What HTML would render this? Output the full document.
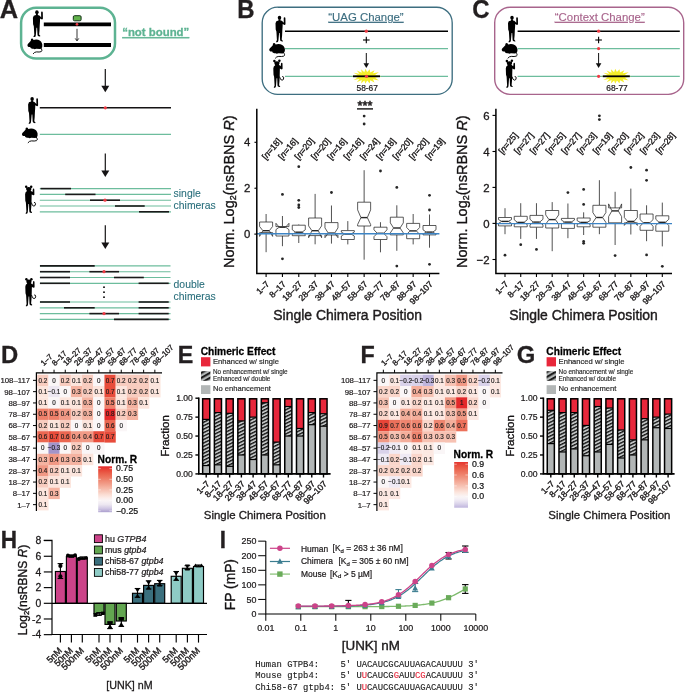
<!DOCTYPE html>
<html lang="en">
<head>
<meta charset="utf-8">
<title>Figure</title>
<style>
html,body{margin:0;padding:0;background:#fff;}
body{width:685px;height:692px;overflow:hidden;}
svg{display:block;font-family:"Liberation Sans",Arial,Helvetica,sans-serif;fill:#231f20;}
svg text{white-space:pre;}
</style>
</head>
<body>
<svg width="685" height="692" viewBox="0 0 685 692">
<rect width="685" height="692" fill="#fff"/>

<defs>
<g id="human" fill="#000">
<ellipse cx="4.3" cy="2" rx="1.75" ry="2"/>
<path d="M3.4 3.6 L5.2 3.6 L5.3 4.7 Q6.9 4.9 7.4 5.8 L8.6 7.2 L8.5 2.6 Q8.5 1.4 9.3 1.4 Q10.2 1.4 10.2 2.6 L10.3 8.3 Q10.2 9.3 9.3 9.3 L7.5 8.4 L7.4 11 L7.1 15.5 L6.9 20 L6.5 24.3 L7.7 25.6 Q7.9 26.3 7.1 26.3 L5.3 25.7 L4.9 24.5 L4.5 17.5 L3.9 17.5 L3.2 25.2 Q3 26.9 2 26.9 L0.9 26.9 Q0.6 26.3 1.3 25.6 L1.7 24.6 L1.2 16 L0.5 14 L0.3 7.5 Q0.5 5 3.3 4.7 Z"/>
</g>
<g id="mouse" fill="#000">
<path d="M0.2 6.6 Q0.6 5.4 2.2 4.2 L3.8 2.4 Q3.6 0.4 5 0.3 Q6.2 0.3 6.6 1.6 Q9 0.8 11.5 1.4 Q15.3 2.6 15.9 6.2 Q16.3 8.6 14.9 10.3 L13.5 10.6 L9.5 10.5 L7.8 11 L6.6 10.4 L5.2 10.4 L3.6 9.7 L3.2 8.8 L1.4 8.6 Q0.2 8 0.2 6.6 Z"/>
<path d="M14.6 9.8 Q16.6 12.4 14.8 13.3 Q12.8 14 9.8 13.6 Q7.6 13.6 6.4 15.3" fill="none" stroke="#000" stroke-width="0.95" stroke-linecap="round"/>
</g>
<g id="chim" fill="#000">
<circle cx="1.4" cy="1.3" r="1.25"/>
<circle cx="6.4" cy="1.2" r="1.25"/>
<path d="M1.3 2.2 Q3.9 0.9 6.5 2.2 Q6.8 4 5.9 5.2 L7.7 6.6 L8 4.2 Q8 3.1 8.7 3.1 Q9.5 3.1 9.5 4.2 L9.6 9 Q9.5 9.9 8.7 9.8 L6.9 8.9 L6.8 12 L6.7 16.5 L6.5 21 L6.1 25.6 L7.2 26.8 Q7.4 27.5 6.6 27.5 L4.9 26.9 L4.5 25.8 L4.2 18.6 L3.6 18.6 L3 26.5 Q2.8 28.2 1.9 28.2 L0.9 28.2 Q0.6 27.6 1.2 26.9 L1.6 25.9 L1.1 17.2 L0.5 15.2 L0.3 8.8 Q0.4 6.6 2.2 5.6 Q1.1 4.3 1.3 2.2 Z"/>
<path d="M6.6 17.4 Q7.2 20.6 9.1 20.6 Q10.8 20.4 10.7 18.2 Q10.6 16.8 9.6 16.9" fill="none" stroke="#000" stroke-width="0.95" stroke-linecap="round"/>
</g>
<g id="burst">
<polygon fill="#f4ee2a" points="-13.5,0 -8,-1.2 -12,-3.6 -6.5,-2.6 -9,-5.8 -4.4,-3.6 -5,-7 -2,-4 -1,-7.4 0.6,-4.2 3,-7 3.4,-3.8 7.4,-6 6,-2.9 11.5,-4 8,-1.4 13.5,0 8,1.4 11.5,4 6,2.9 7.4,6 3.4,3.8 3,7 0.6,4.2 -1,7.4 -2,4 -5,7 -4.4,3.6 -9,5.8 -6.5,2.6 -12,3.6 -8,1.2"/>
</g>
<pattern id="hatch" width="3.1" height="3.1" patternUnits="userSpaceOnUse" patternTransform="rotate(-26)">
<rect width="3.1" height="3.1" fill="#c2c5c5"/>
<rect width="3.1" height="1.35" fill="#161616"/>
</pattern>
<pattern id="hatchL" width="4.3" height="4.3" patternUnits="userSpaceOnUse" patternTransform="rotate(-30) translate(0 1.2)">
<rect width="4.3" height="4.3" fill="#b4b8b8"/>
<rect width="4.3" height="2.1" fill="#1c1c1c"/>
</pattern>
</defs>

<text font-size="25.2" font-weight="bold" fill="#231f20" stroke="#231f20" stroke-width="0.3" transform="translate(-0.30 17.90) scale(1.009 1)">A</text>
<rect x="21.1" y="7.8" width="93.9" height="50.7" rx="15" fill="none" stroke="#5db392" stroke-width="2.5"/>
<use href="#human" transform="translate(32.60 10.20) scale(1.000 1.000)"/>
<use href="#mouse" transform="translate(27.20 38.30) scale(0.950 1.000)"/>
<line x1="43.80" y1="24.30" x2="111.00" y2="24.30" stroke="#000" stroke-width="3.8" />
<line x1="43.80" y1="45.00" x2="111.00" y2="45.00" stroke="#000" stroke-width="3.8" />
<rect x="73.3" y="15.7" width="7.8" height="5.1" rx="1.2" fill="#62b24c" stroke="#16321a" stroke-width="1.0"/>
<circle cx="77.00" cy="24.30" r="1.35" fill="#ee3a43"/>
<line x1="77.00" y1="28.80" x2="77.00" y2="40.80" stroke="#111" stroke-width="0.85" />
<polyline points="75.2,38.4 77,40.8 78.8,38.4" fill="none" stroke="#111" stroke-width="0.85"/>
<text x="122.20" y="36.10" font-size="11.4" font-weight="bold" fill="#5db392" stroke="#5db392" stroke-width="0.30" text-decoration="underline">“not bound”</text>
<line x1="105.30" y1="69.00" x2="105.30" y2="86.80" stroke="#151314" stroke-width="1.2" /><polygon points="101.30,85.80 109.30,85.80 105.30,92.30" fill="#151314"/>
<line x1="105.30" y1="153.40" x2="105.30" y2="171.50" stroke="#151314" stroke-width="1.2" /><polygon points="101.30,170.50 109.30,170.50 105.30,177.00" fill="#151314"/>
<line x1="105.30" y1="225.20" x2="105.30" y2="243.50" stroke="#151314" stroke-width="1.2" /><polygon points="101.30,242.50 109.30,242.50 105.30,249.00" fill="#151314"/>
<use href="#human" transform="translate(27.80 96.90) scale(1.000 1.000)"/>
<line x1="39.80" y1="107.80" x2="171.00" y2="107.80" stroke="#151314" stroke-width="1.5" />
<circle cx="105.30" cy="107.80" r="1.6" fill="#ee3a43"/>
<use href="#mouse" transform="translate(21.70 127.30) scale(1.000 1.000)"/>
<line x1="39.80" y1="134.30" x2="171.00" y2="134.30" stroke="#6dbd9d" stroke-width="1.15" />
<use href="#chim" transform="translate(24.80 185.50) scale(1.000 1.000)"/>
<line x1="39.80" y1="188.60" x2="171.00" y2="188.60" stroke="#6dbd9d" stroke-width="1.15" />
<line x1="40.60" y1="188.60" x2="71.00" y2="188.60" stroke="#1a1a1a" stroke-width="1.6" />
<line x1="39.80" y1="194.40" x2="171.00" y2="194.40" stroke="#6dbd9d" stroke-width="1.15" />
<line x1="65.20" y1="194.40" x2="95.50" y2="194.40" stroke="#1a1a1a" stroke-width="1.6" />
<line x1="39.80" y1="200.20" x2="171.00" y2="200.20" stroke="#6dbd9d" stroke-width="1.15" />
<line x1="90.00" y1="200.20" x2="120.00" y2="200.20" stroke="#1a1a1a" stroke-width="1.6" />
<line x1="39.80" y1="206.00" x2="171.00" y2="206.00" stroke="#6dbd9d" stroke-width="1.15" />
<line x1="115.00" y1="206.00" x2="144.70" y2="206.00" stroke="#1a1a1a" stroke-width="1.6" />
<line x1="39.80" y1="211.80" x2="171.00" y2="211.80" stroke="#6dbd9d" stroke-width="1.15" />
<line x1="139.00" y1="211.80" x2="169.00" y2="211.80" stroke="#1a1a1a" stroke-width="1.6" />
<circle cx="105.00" cy="200.20" r="1.6" fill="#ee3a43"/>
<text x="173.60" y="196.70" font-size="10.4" fill="#2a6f7c" stroke="#2a6f7c" stroke-width="0.10">single</text>
<text x="173.60" y="208.70" font-size="10.4" fill="#2a6f7c" stroke="#2a6f7c" stroke-width="0.10">chimeras</text>
<use href="#chim" transform="translate(25.00 278.00) scale(1.000 1.000)"/>
<line x1="39.80" y1="265.90" x2="170.50" y2="265.90" stroke="#6dbd9d" stroke-width="1.15" />
<line x1="40.00" y1="265.90" x2="94.70" y2="265.90" stroke="#1a1a1a" stroke-width="1.6" />
<line x1="39.80" y1="271.70" x2="170.50" y2="271.70" stroke="#6dbd9d" stroke-width="1.15" />
<line x1="40.00" y1="271.70" x2="70.00" y2="271.70" stroke="#1a1a1a" stroke-width="1.6" />
<line x1="89.40" y1="271.70" x2="119.00" y2="271.70" stroke="#1a1a1a" stroke-width="1.6" />
<line x1="39.80" y1="277.50" x2="170.50" y2="277.50" stroke="#6dbd9d" stroke-width="1.15" />
<line x1="40.00" y1="277.50" x2="70.00" y2="277.50" stroke="#1a1a1a" stroke-width="1.6" />
<line x1="114.00" y1="277.50" x2="143.80" y2="277.50" stroke="#1a1a1a" stroke-width="1.6" />
<line x1="39.80" y1="283.30" x2="170.50" y2="283.30" stroke="#6dbd9d" stroke-width="1.15" />
<line x1="40.00" y1="283.30" x2="70.00" y2="283.30" stroke="#1a1a1a" stroke-width="1.6" />
<line x1="138.60" y1="283.30" x2="168.70" y2="283.30" stroke="#1a1a1a" stroke-width="1.6" />
<line x1="39.80" y1="302.00" x2="170.50" y2="302.00" stroke="#6dbd9d" stroke-width="1.15" />
<line x1="40.00" y1="302.00" x2="70.00" y2="302.00" stroke="#1a1a1a" stroke-width="1.6" />
<line x1="138.60" y1="302.00" x2="168.70" y2="302.00" stroke="#1a1a1a" stroke-width="1.6" />
<line x1="39.80" y1="307.80" x2="170.50" y2="307.80" stroke="#6dbd9d" stroke-width="1.15" />
<line x1="64.00" y1="307.80" x2="94.70" y2="307.80" stroke="#1a1a1a" stroke-width="1.6" />
<line x1="138.60" y1="307.80" x2="168.70" y2="307.80" stroke="#1a1a1a" stroke-width="1.6" />
<line x1="39.80" y1="313.60" x2="170.50" y2="313.60" stroke="#6dbd9d" stroke-width="1.15" />
<line x1="89.40" y1="313.60" x2="119.00" y2="313.60" stroke="#1a1a1a" stroke-width="1.6" />
<line x1="138.60" y1="313.60" x2="168.70" y2="313.60" stroke="#1a1a1a" stroke-width="1.6" />
<line x1="39.80" y1="319.40" x2="170.50" y2="319.40" stroke="#6dbd9d" stroke-width="1.15" />
<line x1="114.00" y1="319.40" x2="168.70" y2="319.40" stroke="#1a1a1a" stroke-width="1.6" />
<circle cx="104.00" cy="271.70" r="1.6" fill="#ee3a43"/>
<circle cx="104.00" cy="313.60" r="1.6" fill="#ee3a43"/>
<rect x="103.2" y="286.4" width="1.6" height="1.6" fill="#000"/>
<rect x="103.2" y="291.4" width="1.6" height="1.6" fill="#000"/>
<rect x="103.2" y="296.4" width="1.6" height="1.6" fill="#000"/>
<text x="173.60" y="287.80" font-size="10.4" fill="#2a6f7c" stroke="#2a6f7c" stroke-width="0.10">double</text>
<text x="173.60" y="300.20" font-size="10.4" fill="#2a6f7c" stroke="#2a6f7c" stroke-width="0.10">chimeras</text>
<text font-size="25.2" font-weight="bold" fill="#231f20" stroke="#231f20" stroke-width="0.3" transform="translate(237.20 17.70) scale(0.951 1)">B</text>
<rect x="262.2" y="7.2" width="190" height="87.2" rx="15.5" fill="none" stroke="#3d6e80" stroke-width="1.35"/>
<text x="366.00" y="20.80" font-size="11.4" text-anchor="middle" fill="#3d6e80" stroke="#3d6e80" stroke-width="0.15" text-decoration="underline">“UAG Change”</text>
<use href="#human" transform="translate(275.20 15.80) scale(1.000 0.980)"/>
<use href="#mouse" transform="translate(269.00 42.80) scale(1.000 1.000)"/>
<use href="#chim" transform="translate(273.00 59.60) scale(1.000 1.000)"/>
<line x1="285.00" y1="31.20" x2="448.00" y2="31.20" stroke="#000" stroke-width="1.5" />
<line x1="285.00" y1="48.60" x2="448.00" y2="48.60" stroke="#6dbd9d" stroke-width="1.2" />
<line x1="285.00" y1="76.30" x2="448.00" y2="76.30" stroke="#6dbd9d" stroke-width="1.2" />
<line x1="363.00" y1="40.00" x2="369.60" y2="40.00" stroke="#000" stroke-width="1.1" />
<line x1="366.30" y1="36.70" x2="366.30" y2="43.30" stroke="#000" stroke-width="1.1" />
<line x1="366.30" y1="53.00" x2="366.30" y2="64.20" stroke="#111" stroke-width="1.0" /><polygon points="363.50,63.20 369.10,63.20 366.30,68.00" fill="#111"/>
<use href="#burst" transform="translate(366.5 76.3) scale(1.08 1.02)"/>
<line x1="353.00" y1="76.30" x2="380.00" y2="76.30" stroke="#000" stroke-width="1.8" />
<circle cx="366.30" cy="31.20" r="1.6" fill="#ee3a43"/>
<circle cx="366.50" cy="76.30" r="1.6" fill="#ee3a43"/>
<text x="367.20" y="91.40" font-size="8.4" text-anchor="middle" stroke="#151314" stroke-width="0.21">58-67</text>
<text x="365.00" y="110.20" font-size="12.8" text-anchor="middle" stroke="#151314" stroke-width="0.50">***</text>
<line x1="357.00" y1="108.90" x2="373.00" y2="108.90" stroke="#000" stroke-width="1.3" />
<line x1="266.10" y1="214.00" x2="266.10" y2="222.00" stroke="#262626" stroke-width="0.8" /><line x1="266.10" y1="232.60" x2="266.10" y2="252.20" stroke="#262626" stroke-width="0.8" /><polygon points="259.60,222.00 272.60,222.00 272.60,226.50 269.30,230.70 272.60,236.40 272.60,232.60 259.60,232.60 259.60,236.40 262.90,230.70 259.60,226.50" fill="#fff" stroke="#262626" stroke-width="0.75" stroke-linejoin="miter"/><line x1="262.90" y1="230.70" x2="269.30" y2="230.70" stroke="#262626" stroke-width="1.4" />
<line x1="282.44" y1="216.00" x2="282.44" y2="226.60" stroke="#262626" stroke-width="0.8" /><line x1="282.44" y1="236.00" x2="282.44" y2="246.20" stroke="#262626" stroke-width="0.8" /><polygon points="275.94,226.60 288.94,226.60 288.94,223.30 285.64,227.20 288.94,229.60 288.94,236.00 275.94,236.00 275.94,229.60 279.24,227.20 275.94,223.30" fill="#fff" stroke="#262626" stroke-width="0.75" stroke-linejoin="miter"/><line x1="279.24" y1="227.20" x2="285.64" y2="227.20" stroke="#262626" stroke-width="1.4" />
<line x1="298.78" y1="224.50" x2="298.78" y2="225.20" stroke="#262626" stroke-width="0.8" /><line x1="298.78" y1="235.70" x2="298.78" y2="243.00" stroke="#262626" stroke-width="0.8" /><polygon points="292.28,225.20 305.28,225.20 305.28,229.80 301.98,232.20 305.28,234.40 305.28,235.70 292.28,235.70 292.28,234.40 295.58,232.20 292.28,229.80" fill="#fff" stroke="#262626" stroke-width="0.75" stroke-linejoin="miter"/><line x1="295.58" y1="232.20" x2="301.98" y2="232.20" stroke="#262626" stroke-width="1.4" />
<line x1="315.12" y1="193.90" x2="315.12" y2="218.00" stroke="#262626" stroke-width="0.8" /><line x1="315.12" y1="235.60" x2="315.12" y2="244.30" stroke="#262626" stroke-width="0.8" /><polygon points="308.62,218.00 321.62,218.00 321.62,225.90 318.32,230.70 321.62,237.70 321.62,235.60 308.62,235.60 308.62,237.70 311.92,230.70 308.62,225.90" fill="#fff" stroke="#262626" stroke-width="0.75" stroke-linejoin="miter"/><line x1="311.92" y1="230.70" x2="318.32" y2="230.70" stroke="#262626" stroke-width="1.4" />
<line x1="331.46" y1="205.50" x2="331.46" y2="222.60" stroke="#262626" stroke-width="0.8" /><line x1="331.46" y1="235.00" x2="331.46" y2="243.60" stroke="#262626" stroke-width="0.8" /><polygon points="324.96,222.60 337.96,222.60 337.96,227.90 334.66,233.10 337.96,237.70 337.96,235.00 324.96,235.00 324.96,237.70 328.26,233.10 324.96,227.90" fill="#fff" stroke="#262626" stroke-width="0.75" stroke-linejoin="miter"/><line x1="328.26" y1="233.10" x2="334.66" y2="233.10" stroke="#262626" stroke-width="1.4" />
<line x1="347.80" y1="221.10" x2="347.80" y2="230.60" stroke="#262626" stroke-width="0.8" /><line x1="347.80" y1="239.50" x2="347.80" y2="244.40" stroke="#262626" stroke-width="0.8" /><polygon points="341.30,230.60 354.30,230.60 354.30,232.10 351.00,234.00 354.30,236.00 354.30,239.50 341.30,239.50 341.30,236.00 344.60,234.00 341.30,232.10" fill="#fff" stroke="#262626" stroke-width="0.75" stroke-linejoin="miter"/><line x1="344.60" y1="234.00" x2="351.00" y2="234.00" stroke="#262626" stroke-width="1.4" />
<line x1="364.14" y1="170.20" x2="364.14" y2="202.20" stroke="#262626" stroke-width="0.8" /><line x1="364.14" y1="226.00" x2="364.14" y2="259.70" stroke="#262626" stroke-width="0.8" /><polygon points="357.64,202.20 370.64,202.20 370.64,209.90 367.34,217.60 370.64,224.50 370.64,226.00 357.64,226.00 357.64,224.50 360.94,217.60 357.64,209.90" fill="#fff" stroke="#262626" stroke-width="0.75" stroke-linejoin="miter"/><line x1="360.94" y1="217.60" x2="367.34" y2="217.60" stroke="#262626" stroke-width="1.4" />
<line x1="380.48" y1="222.20" x2="380.48" y2="227.20" stroke="#262626" stroke-width="0.8" /><line x1="380.48" y1="239.50" x2="380.48" y2="252.30" stroke="#262626" stroke-width="0.8" /><polygon points="373.98,227.20 386.98,227.20 386.98,229.80 383.68,233.30 386.98,236.70 386.98,239.50 373.98,239.50 373.98,236.70 377.28,233.30 373.98,229.80" fill="#fff" stroke="#262626" stroke-width="0.75" stroke-linejoin="miter"/><line x1="377.28" y1="233.30" x2="383.68" y2="233.30" stroke="#262626" stroke-width="1.4" />
<line x1="396.82" y1="205.30" x2="396.82" y2="217.20" stroke="#262626" stroke-width="0.8" /><line x1="396.82" y1="234.90" x2="396.82" y2="250.80" stroke="#262626" stroke-width="0.8" /><polygon points="390.32,217.20 403.32,217.20 403.32,222.90 400.02,228.00 403.32,232.90 403.32,234.90 390.32,234.90 390.32,232.90 393.62,228.00 390.32,222.90" fill="#fff" stroke="#262626" stroke-width="0.75" stroke-linejoin="miter"/><line x1="393.62" y1="228.00" x2="400.02" y2="228.00" stroke="#262626" stroke-width="1.4" />
<line x1="413.16" y1="214.00" x2="413.16" y2="223.40" stroke="#262626" stroke-width="0.8" /><line x1="413.16" y1="238.70" x2="413.16" y2="244.40" stroke="#262626" stroke-width="0.8" /><polygon points="406.66,223.40 419.66,223.40 419.66,227.50 416.36,230.90 419.66,234.40 419.66,238.70 406.66,238.70 406.66,234.40 409.96,230.90 406.66,227.50" fill="#fff" stroke="#262626" stroke-width="0.75" stroke-linejoin="miter"/><line x1="409.96" y1="230.90" x2="416.36" y2="230.90" stroke="#262626" stroke-width="1.4" />
<line x1="429.50" y1="214.50" x2="429.50" y2="225.50" stroke="#262626" stroke-width="0.8" /><line x1="429.50" y1="234.90" x2="429.50" y2="247.70" stroke="#262626" stroke-width="0.8" /><polygon points="423.00,225.50 436.00,225.50 436.00,229.80 432.70,232.10 436.00,234.00 436.00,234.90 423.00,234.90 423.00,234.00 426.30,232.10 423.00,229.80" fill="#fff" stroke="#262626" stroke-width="0.75" stroke-linejoin="miter"/><line x1="426.30" y1="232.10" x2="432.70" y2="232.10" stroke="#262626" stroke-width="1.4" />
<circle cx="282.44" cy="194.40" r="1.4" fill="#262626"/>
<circle cx="282.44" cy="258.80" r="1.4" fill="#262626"/>
<circle cx="298.78" cy="166.70" r="1.4" fill="#262626"/>
<circle cx="298.78" cy="200.30" r="1.4" fill="#262626"/>
<circle cx="298.78" cy="204.90" r="1.4" fill="#262626"/>
<circle cx="298.78" cy="207.50" r="1.4" fill="#262626"/>
<circle cx="331.46" cy="192.50" r="1.4" fill="#262626"/>
<circle cx="364.14" cy="116.10" r="1.4" fill="#262626"/>
<circle cx="364.14" cy="124.00" r="1.4" fill="#262626"/>
<circle cx="380.48" cy="171.00" r="1.4" fill="#262626"/>
<circle cx="396.82" cy="187.40" r="1.4" fill="#262626"/>
<circle cx="396.82" cy="266.10" r="1.4" fill="#262626"/>
<circle cx="429.50" cy="195.30" r="1.4" fill="#262626"/>
<circle cx="429.50" cy="210.00" r="1.4" fill="#262626"/>
<circle cx="429.50" cy="264.30" r="1.4" fill="#262626"/>
<line x1="256.80" y1="233.80" x2="439.40" y2="233.80" stroke="#3d85c6" stroke-width="1.5" />
<polyline points="256.8,108.8 256.8,273.6 439.4,273.6" fill="none" stroke="#000" stroke-width="1.5"/>
<line x1="254.40" y1="142.30" x2="256.80" y2="142.30" stroke="#000" stroke-width="1.1" />
<text x="250.40" y="146.40" font-size="11.4" text-anchor="end" stroke="#151314" stroke-width="0.30">4</text>
<line x1="254.40" y1="188.20" x2="256.80" y2="188.20" stroke="#000" stroke-width="1.1" />
<text x="250.40" y="192.30" font-size="11.4" text-anchor="end" stroke="#151314" stroke-width="0.30">2</text>
<line x1="254.40" y1="234.10" x2="256.80" y2="234.10" stroke="#000" stroke-width="1.1" />
<text x="250.40" y="238.20" font-size="11.4" text-anchor="end" stroke="#151314" stroke-width="0.30">0</text>
<line x1="266.10" y1="273.60" x2="266.10" y2="277.00" stroke="#000" stroke-width="1.1" />
<text x="270.00" y="284.70" font-size="8.6" text-anchor="end" stroke="#151314" stroke-width="0.34" transform="rotate(-45 270.00 284.70)">1–7</text>
<line x1="282.44" y1="273.60" x2="282.44" y2="277.00" stroke="#000" stroke-width="1.1" />
<text x="286.34" y="284.70" font-size="8.6" text-anchor="end" stroke="#151314" stroke-width="0.34" transform="rotate(-45 286.34 284.70)">8–17</text>
<line x1="298.78" y1="273.60" x2="298.78" y2="277.00" stroke="#000" stroke-width="1.1" />
<text x="302.68" y="284.70" font-size="8.6" text-anchor="end" stroke="#151314" stroke-width="0.34" transform="rotate(-45 302.68 284.70)">18–27</text>
<line x1="315.12" y1="273.60" x2="315.12" y2="277.00" stroke="#000" stroke-width="1.1" />
<text x="319.02" y="284.70" font-size="8.6" text-anchor="end" stroke="#151314" stroke-width="0.34" transform="rotate(-45 319.02 284.70)">28–37</text>
<line x1="331.46" y1="273.60" x2="331.46" y2="277.00" stroke="#000" stroke-width="1.1" />
<text x="335.36" y="284.70" font-size="8.6" text-anchor="end" stroke="#151314" stroke-width="0.34" transform="rotate(-45 335.36 284.70)">38–47</text>
<line x1="347.80" y1="273.60" x2="347.80" y2="277.00" stroke="#000" stroke-width="1.1" />
<text x="351.70" y="284.70" font-size="8.6" text-anchor="end" stroke="#151314" stroke-width="0.34" transform="rotate(-45 351.70 284.70)">48–57</text>
<line x1="364.14" y1="273.60" x2="364.14" y2="277.00" stroke="#000" stroke-width="1.1" />
<text x="368.04" y="284.70" font-size="8.6" text-anchor="end" stroke="#151314" stroke-width="0.34" transform="rotate(-45 368.04 284.70)">58–67</text>
<line x1="380.48" y1="273.60" x2="380.48" y2="277.00" stroke="#000" stroke-width="1.1" />
<text x="384.38" y="284.70" font-size="8.6" text-anchor="end" stroke="#151314" stroke-width="0.34" transform="rotate(-45 384.38 284.70)">68–77</text>
<line x1="396.82" y1="273.60" x2="396.82" y2="277.00" stroke="#000" stroke-width="1.1" />
<text x="400.72" y="284.70" font-size="8.6" text-anchor="end" stroke="#151314" stroke-width="0.34" transform="rotate(-45 400.72 284.70)">78–87</text>
<line x1="413.16" y1="273.60" x2="413.16" y2="277.00" stroke="#000" stroke-width="1.1" />
<text x="417.06" y="284.70" font-size="8.6" text-anchor="end" stroke="#151314" stroke-width="0.34" transform="rotate(-45 417.06 284.70)">88–97</text>
<line x1="429.50" y1="273.60" x2="429.50" y2="277.00" stroke="#000" stroke-width="1.1" />
<text x="433.40" y="284.70" font-size="8.6" text-anchor="end" stroke="#151314" stroke-width="0.34" transform="rotate(-45 433.40 284.70)">98–107</text>
<text x="265.90" y="160.20" font-size="8.8" stroke="#151314" stroke-width="0.34" transform="rotate(-50 265.90 160.20)">[<tspan font-style="italic">n</tspan>=18]</text>
<text x="282.24" y="160.20" font-size="8.8" stroke="#151314" stroke-width="0.34" transform="rotate(-50 282.24 160.20)">[<tspan font-style="italic">n</tspan>=16]</text>
<text x="298.58" y="160.20" font-size="8.8" stroke="#151314" stroke-width="0.34" transform="rotate(-50 298.58 160.20)">[<tspan font-style="italic">n</tspan>=20]</text>
<text x="314.92" y="160.20" font-size="8.8" stroke="#151314" stroke-width="0.34" transform="rotate(-50 314.92 160.20)">[<tspan font-style="italic">n</tspan>=20]</text>
<text x="331.26" y="160.20" font-size="8.8" stroke="#151314" stroke-width="0.34" transform="rotate(-50 331.26 160.20)">[<tspan font-style="italic">n</tspan>=16]</text>
<text x="347.60" y="160.20" font-size="8.8" stroke="#151314" stroke-width="0.34" transform="rotate(-50 347.60 160.20)">[<tspan font-style="italic">n</tspan>=16]</text>
<text x="363.94" y="160.20" font-size="8.8" stroke="#151314" stroke-width="0.34" transform="rotate(-50 363.94 160.20)">[<tspan font-style="italic">n</tspan>=24]</text>
<text x="380.28" y="160.20" font-size="8.8" stroke="#151314" stroke-width="0.34" transform="rotate(-50 380.28 160.20)">[<tspan font-style="italic">n</tspan>=18]</text>
<text x="396.62" y="160.20" font-size="8.8" stroke="#151314" stroke-width="0.34" transform="rotate(-50 396.62 160.20)">[<tspan font-style="italic">n</tspan>=20]</text>
<text x="412.96" y="160.20" font-size="8.8" stroke="#151314" stroke-width="0.34" transform="rotate(-50 412.96 160.20)">[<tspan font-style="italic">n</tspan>=20]</text>
<text x="429.30" y="160.20" font-size="8.8" stroke="#151314" stroke-width="0.34" transform="rotate(-50 429.30 160.20)">[<tspan font-style="italic">n</tspan>=19]</text>
<text x="347.65" y="320.00" font-size="13.95" text-anchor="middle" stroke="#151314" stroke-width="0.38">Single Chimera Position</text>
<text fill="#151314" stroke="#151314" stroke-width="0.34" font-size="14.5" text-anchor="middle" transform="translate(233.7 191.7) rotate(-90)">Norm. Log<tspan font-size="9" dy="2.6">2</tspan><tspan dy="-2.6">(nsRBNS </tspan><tspan font-style="italic">R</tspan>)</text>
<text font-size="25.2" font-weight="bold" fill="#231f20" stroke="#231f20" stroke-width="0.3" transform="translate(472.30 17.70) scale(0.951 1)">C</text>
<rect x="494.7" y="7.2" width="189.0" height="87.2" rx="15.5" fill="none" stroke="#a8648c" stroke-width="1.4"/>
<text x="599.80" y="20.80" font-size="11.4" text-anchor="middle" fill="#a8648c" stroke="#a8648c" stroke-width="0.15" text-decoration="underline">“Context Change”</text>
<use href="#human" transform="translate(507.70 15.80) scale(1.000 0.980)"/>
<use href="#mouse" transform="translate(501.50 42.80) scale(1.000 1.000)"/>
<use href="#chim" transform="translate(505.50 59.60) scale(1.000 1.000)"/>
<line x1="517.60" y1="31.20" x2="679.80" y2="31.20" stroke="#000" stroke-width="1.5" />
<line x1="517.60" y1="48.60" x2="679.80" y2="48.60" stroke="#6dbd9d" stroke-width="1.2" />
<line x1="517.60" y1="76.30" x2="679.80" y2="76.30" stroke="#6dbd9d" stroke-width="1.2" />
<line x1="595.30" y1="40.00" x2="601.90" y2="40.00" stroke="#000" stroke-width="1.1" />
<line x1="598.60" y1="36.70" x2="598.60" y2="43.30" stroke="#000" stroke-width="1.1" />
<line x1="598.60" y1="53.00" x2="598.60" y2="64.20" stroke="#111" stroke-width="1.0" /><polygon points="595.80,63.20 601.40,63.20 598.60,68.00" fill="#111"/>
<use href="#burst" transform="translate(616.3 76.3) scale(1.08 1.02)"/>
<line x1="602.80" y1="76.30" x2="629.80" y2="76.30" stroke="#000" stroke-width="1.8" />
<circle cx="598.60" cy="31.20" r="1.6" fill="#ee3a43"/>
<circle cx="598.60" cy="48.60" r="1.6" fill="#ee3a43"/>
<circle cx="598.60" cy="76.30" r="1.6" fill="#ee3a43"/>
<text x="617.00" y="91.40" font-size="8.4" text-anchor="middle" stroke="#151314" stroke-width="0.21">68-77</text>
<line x1="505.00" y1="208.20" x2="505.00" y2="217.50" stroke="#262626" stroke-width="0.8" /><line x1="505.00" y1="225.90" x2="505.00" y2="234.20" stroke="#262626" stroke-width="0.8" /><polygon points="498.50,217.50 511.50,217.50 511.50,219.60 508.20,221.40 511.50,223.30 511.50,225.90 498.50,225.90 498.50,223.30 501.80,221.40 498.50,219.60" fill="#fff" stroke="#262626" stroke-width="0.75" stroke-linejoin="miter"/><line x1="501.80" y1="221.40" x2="508.20" y2="221.40" stroke="#262626" stroke-width="1.4" />
<line x1="520.73" y1="203.20" x2="520.73" y2="216.30" stroke="#262626" stroke-width="0.8" /><line x1="520.73" y1="226.80" x2="520.73" y2="238.90" stroke="#262626" stroke-width="0.8" /><polygon points="514.23,216.30 527.23,216.30 527.23,219.80 523.93,222.40 527.23,224.50 527.23,226.80 514.23,226.80 514.23,224.50 517.53,222.40 514.23,219.80" fill="#fff" stroke="#262626" stroke-width="0.75" stroke-linejoin="miter"/><line x1="517.53" y1="222.40" x2="523.93" y2="222.40" stroke="#262626" stroke-width="1.4" />
<line x1="536.46" y1="203.20" x2="536.46" y2="215.40" stroke="#262626" stroke-width="0.8" /><line x1="536.46" y1="227.20" x2="536.46" y2="238.90" stroke="#262626" stroke-width="0.8" /><polygon points="529.96,215.40 542.96,215.40 542.96,219.30 539.66,222.10 542.96,224.90 542.96,227.20 529.96,227.20 529.96,224.90 533.26,222.10 529.96,219.30" fill="#fff" stroke="#262626" stroke-width="0.75" stroke-linejoin="miter"/><line x1="533.26" y1="222.10" x2="539.66" y2="222.10" stroke="#262626" stroke-width="1.4" />
<line x1="552.19" y1="202.10" x2="552.19" y2="210.50" stroke="#262626" stroke-width="0.8" /><line x1="552.19" y1="228.00" x2="552.19" y2="251.20" stroke="#262626" stroke-width="0.8" /><polygon points="545.69,210.50 558.69,210.50 558.69,214.90 555.39,219.60 558.69,224.20 558.69,228.00 545.69,228.00 545.69,224.20 548.99,219.60 545.69,214.90" fill="#fff" stroke="#262626" stroke-width="0.75" stroke-linejoin="miter"/><line x1="548.99" y1="219.60" x2="555.39" y2="219.60" stroke="#262626" stroke-width="1.4" />
<line x1="567.92" y1="203.50" x2="567.92" y2="218.40" stroke="#262626" stroke-width="0.8" /><line x1="567.92" y1="228.40" x2="567.92" y2="238.20" stroke="#262626" stroke-width="0.8" /><polygon points="561.42,218.40 574.42,218.40 574.42,220.10 571.12,222.10 574.42,224.20 574.42,228.40 561.42,228.40 561.42,224.20 564.72,222.10 561.42,220.10" fill="#fff" stroke="#262626" stroke-width="0.75" stroke-linejoin="miter"/><line x1="564.72" y1="222.10" x2="571.12" y2="222.10" stroke="#262626" stroke-width="1.4" />
<line x1="583.65" y1="212.30" x2="583.65" y2="218.00" stroke="#262626" stroke-width="0.8" /><line x1="583.65" y1="226.80" x2="583.65" y2="235.00" stroke="#262626" stroke-width="0.8" /><polygon points="577.15,218.00 590.15,218.00 590.15,220.70 586.85,222.40 590.15,224.50 590.15,226.80 577.15,226.80 577.15,224.50 580.45,222.40 577.15,220.70" fill="#fff" stroke="#262626" stroke-width="0.75" stroke-linejoin="miter"/><line x1="580.45" y1="222.40" x2="586.85" y2="222.40" stroke="#262626" stroke-width="1.4" />
<line x1="599.38" y1="180.20" x2="599.38" y2="205.30" stroke="#262626" stroke-width="0.8" /><line x1="599.38" y1="227.20" x2="599.38" y2="234.20" stroke="#262626" stroke-width="0.8" /><polygon points="592.88,205.30 605.88,205.30 605.88,212.60 602.58,217.50 605.88,222.40 605.88,227.20 592.88,227.20 592.88,222.40 596.18,217.50 592.88,212.60" fill="#fff" stroke="#262626" stroke-width="0.75" stroke-linejoin="miter"/><line x1="596.18" y1="217.50" x2="602.58" y2="217.50" stroke="#262626" stroke-width="1.4" />
<line x1="615.11" y1="191.80" x2="615.11" y2="207.90" stroke="#262626" stroke-width="0.8" /><line x1="615.11" y1="222.80" x2="615.11" y2="245.00" stroke="#262626" stroke-width="0.8" /><polygon points="608.61,207.90 621.61,207.90 621.61,203.90 618.31,210.90 621.61,216.60 621.61,222.80 608.61,222.80 608.61,216.60 611.91,210.90 608.61,203.90" fill="#fff" stroke="#262626" stroke-width="0.75" stroke-linejoin="miter"/><line x1="611.91" y1="210.90" x2="618.31" y2="210.90" stroke="#262626" stroke-width="1.4" />
<line x1="630.84" y1="188.60" x2="630.84" y2="210.50" stroke="#262626" stroke-width="0.8" /><line x1="630.84" y1="222.80" x2="630.84" y2="234.50" stroke="#262626" stroke-width="0.8" /><polygon points="624.34,210.50 637.34,210.50 637.34,217.50 634.04,221.40 637.34,225.40 637.34,222.80 624.34,222.80 624.34,225.40 627.64,221.40 624.34,217.50" fill="#fff" stroke="#262626" stroke-width="0.75" stroke-linejoin="miter"/><line x1="627.64" y1="221.40" x2="634.04" y2="221.40" stroke="#262626" stroke-width="1.4" />
<line x1="646.57" y1="205.30" x2="646.57" y2="214.00" stroke="#262626" stroke-width="0.8" /><line x1="646.57" y1="230.30" x2="646.57" y2="241.20" stroke="#262626" stroke-width="0.8" /><polygon points="640.07,214.00 653.07,214.00 653.07,219.60 649.77,222.80 653.07,226.30 653.07,230.30 640.07,230.30 640.07,226.30 643.37,222.80 640.07,219.60" fill="#fff" stroke="#262626" stroke-width="0.75" stroke-linejoin="miter"/><line x1="643.37" y1="222.80" x2="649.77" y2="222.80" stroke="#262626" stroke-width="1.4" />
<line x1="662.30" y1="202.60" x2="662.30" y2="215.80" stroke="#262626" stroke-width="0.8" /><line x1="662.30" y1="231.20" x2="662.30" y2="246.40" stroke="#262626" stroke-width="0.8" /><polygon points="655.80,215.80 668.80,215.80 668.80,219.30 665.50,222.30 668.80,225.40 668.80,231.20 655.80,231.20 655.80,225.40 659.10,222.30 655.80,219.30" fill="#fff" stroke="#262626" stroke-width="0.75" stroke-linejoin="miter"/><line x1="659.10" y1="222.30" x2="665.50" y2="222.30" stroke="#262626" stroke-width="1.4" />
<circle cx="505.00" cy="255.20" r="1.4" fill="#262626"/>
<circle cx="520.73" cy="244.70" r="1.4" fill="#262626"/>
<circle cx="536.46" cy="249.40" r="1.4" fill="#262626"/>
<circle cx="567.92" cy="192.60" r="1.4" fill="#262626"/>
<circle cx="583.65" cy="189.40" r="1.4" fill="#262626"/>
<circle cx="583.65" cy="204.40" r="1.4" fill="#262626"/>
<circle cx="583.65" cy="241.50" r="1.4" fill="#262626"/>
<circle cx="583.65" cy="243.30" r="1.4" fill="#262626"/>
<circle cx="599.38" cy="115.80" r="1.4" fill="#262626"/>
<circle cx="599.38" cy="119.60" r="1.4" fill="#262626"/>
<circle cx="615.11" cy="255.60" r="1.4" fill="#262626"/>
<circle cx="630.84" cy="167.50" r="1.4" fill="#262626"/>
<circle cx="646.57" cy="170.20" r="1.4" fill="#262626"/>
<circle cx="646.57" cy="180.30" r="1.4" fill="#262626"/>
<circle cx="646.57" cy="254.90" r="1.4" fill="#262626"/>
<circle cx="662.30" cy="266.30" r="1.4" fill="#262626"/>
<line x1="495.90" y1="223.55" x2="672.00" y2="223.55" stroke="#3d85c6" stroke-width="1.15" />
<polyline points="495.9,108.8 495.9,273.6 672,273.6" fill="none" stroke="#000" stroke-width="1.5"/>
<line x1="492.50" y1="115.40" x2="495.90" y2="115.40" stroke="#000" stroke-width="1.1" />
<text x="489.50" y="119.50" font-size="11.4" text-anchor="end" stroke="#151314" stroke-width="0.30">6</text>
<line x1="492.50" y1="151.50" x2="495.90" y2="151.50" stroke="#000" stroke-width="1.1" />
<text x="489.50" y="155.60" font-size="11.4" text-anchor="end" stroke="#151314" stroke-width="0.30">4</text>
<line x1="492.50" y1="187.40" x2="495.90" y2="187.40" stroke="#000" stroke-width="1.1" />
<text x="489.50" y="191.50" font-size="11.4" text-anchor="end" stroke="#151314" stroke-width="0.30">2</text>
<line x1="492.50" y1="223.40" x2="495.90" y2="223.40" stroke="#000" stroke-width="1.1" />
<text x="489.50" y="227.50" font-size="11.4" text-anchor="end" stroke="#151314" stroke-width="0.30">0</text>
<line x1="492.50" y1="259.50" x2="495.90" y2="259.50" stroke="#000" stroke-width="1.1" />
<text x="489.50" y="263.60" font-size="11.4" text-anchor="end" stroke="#151314" stroke-width="0.30">−2</text>
<line x1="505.00" y1="273.60" x2="505.00" y2="277.00" stroke="#000" stroke-width="1.1" />
<text x="508.90" y="284.70" font-size="8.6" text-anchor="end" stroke="#151314" stroke-width="0.34" transform="rotate(-45 508.90 284.70)">1–7</text>
<line x1="520.73" y1="273.60" x2="520.73" y2="277.00" stroke="#000" stroke-width="1.1" />
<text x="524.63" y="284.70" font-size="8.6" text-anchor="end" stroke="#151314" stroke-width="0.34" transform="rotate(-45 524.63 284.70)">8–17</text>
<line x1="536.46" y1="273.60" x2="536.46" y2="277.00" stroke="#000" stroke-width="1.1" />
<text x="540.36" y="284.70" font-size="8.6" text-anchor="end" stroke="#151314" stroke-width="0.34" transform="rotate(-45 540.36 284.70)">18–27</text>
<line x1="552.19" y1="273.60" x2="552.19" y2="277.00" stroke="#000" stroke-width="1.1" />
<text x="556.09" y="284.70" font-size="8.6" text-anchor="end" stroke="#151314" stroke-width="0.34" transform="rotate(-45 556.09 284.70)">28–37</text>
<line x1="567.92" y1="273.60" x2="567.92" y2="277.00" stroke="#000" stroke-width="1.1" />
<text x="571.82" y="284.70" font-size="8.6" text-anchor="end" stroke="#151314" stroke-width="0.34" transform="rotate(-45 571.82 284.70)">38–47</text>
<line x1="583.65" y1="273.60" x2="583.65" y2="277.00" stroke="#000" stroke-width="1.1" />
<text x="587.55" y="284.70" font-size="8.6" text-anchor="end" stroke="#151314" stroke-width="0.34" transform="rotate(-45 587.55 284.70)">48–57</text>
<line x1="599.38" y1="273.60" x2="599.38" y2="277.00" stroke="#000" stroke-width="1.1" />
<text x="603.28" y="284.70" font-size="8.6" text-anchor="end" stroke="#151314" stroke-width="0.34" transform="rotate(-45 603.28 284.70)">58–67</text>
<line x1="615.11" y1="273.60" x2="615.11" y2="277.00" stroke="#000" stroke-width="1.1" />
<text x="619.01" y="284.70" font-size="8.6" text-anchor="end" stroke="#151314" stroke-width="0.34" transform="rotate(-45 619.01 284.70)">68–77</text>
<line x1="630.84" y1="273.60" x2="630.84" y2="277.00" stroke="#000" stroke-width="1.1" />
<text x="634.74" y="284.70" font-size="8.6" text-anchor="end" stroke="#151314" stroke-width="0.34" transform="rotate(-45 634.74 284.70)">78–87</text>
<line x1="646.57" y1="273.60" x2="646.57" y2="277.00" stroke="#000" stroke-width="1.1" />
<text x="650.47" y="284.70" font-size="8.6" text-anchor="end" stroke="#151314" stroke-width="0.34" transform="rotate(-45 650.47 284.70)">88–97</text>
<line x1="662.30" y1="273.60" x2="662.30" y2="277.00" stroke="#000" stroke-width="1.1" />
<text x="666.20" y="284.70" font-size="8.6" text-anchor="end" stroke="#151314" stroke-width="0.34" transform="rotate(-45 666.20 284.70)">98–107</text>
<text x="502.40" y="154.60" font-size="8.8" stroke="#151314" stroke-width="0.34" transform="rotate(-50 502.40 154.60)">[<tspan font-style="italic">n</tspan>=25]</text>
<text x="518.13" y="154.60" font-size="8.8" stroke="#151314" stroke-width="0.34" transform="rotate(-50 518.13 154.60)">[<tspan font-style="italic">n</tspan>=27]</text>
<text x="533.86" y="154.60" font-size="8.8" stroke="#151314" stroke-width="0.34" transform="rotate(-50 533.86 154.60)">[<tspan font-style="italic">n</tspan>=27]</text>
<text x="549.59" y="154.60" font-size="8.8" stroke="#151314" stroke-width="0.34" transform="rotate(-50 549.59 154.60)">[<tspan font-style="italic">n</tspan>=25]</text>
<text x="565.32" y="154.60" font-size="8.8" stroke="#151314" stroke-width="0.34" transform="rotate(-50 565.32 154.60)">[<tspan font-style="italic">n</tspan>=27]</text>
<text x="581.05" y="154.60" font-size="8.8" stroke="#151314" stroke-width="0.34" transform="rotate(-50 581.05 154.60)">[<tspan font-style="italic">n</tspan>=23]</text>
<text x="596.78" y="154.60" font-size="8.8" stroke="#151314" stroke-width="0.34" transform="rotate(-50 596.78 154.60)">[<tspan font-style="italic">n</tspan>=19]</text>
<text x="612.51" y="154.60" font-size="8.8" stroke="#151314" stroke-width="0.34" transform="rotate(-50 612.51 154.60)">[<tspan font-style="italic">n</tspan>=20]</text>
<text x="628.24" y="154.60" font-size="8.8" stroke="#151314" stroke-width="0.34" transform="rotate(-50 628.24 154.60)">[<tspan font-style="italic">n</tspan>=22]</text>
<text x="643.97" y="154.60" font-size="8.8" stroke="#151314" stroke-width="0.34" transform="rotate(-50 643.97 154.60)">[<tspan font-style="italic">n</tspan>=23]</text>
<text x="659.70" y="154.60" font-size="8.8" stroke="#151314" stroke-width="0.34" transform="rotate(-50 659.70 154.60)">[<tspan font-style="italic">n</tspan>=28]</text>
<text x="583.50" y="320.00" font-size="13.95" text-anchor="middle" stroke="#151314" stroke-width="0.38">Single Chimera Position</text>
<text fill="#151314" stroke="#151314" stroke-width="0.34" font-size="14.5" text-anchor="middle" transform="translate(466.7 191.7) rotate(-90)">Norm. Log<tspan font-size="9" dy="2.6">2</tspan><tspan dy="-2.6">(nsRBNS </tspan><tspan font-style="italic">R</tspan>)</text>
<text font-size="24.3" font-weight="bold" fill="#231f20" stroke="#231f20" stroke-width="0.3" transform="translate(1.00 362.70) scale(0.980 1)">D</text>
<rect x="37.25" y="374.70" width="11.30" height="11.40" fill="#f8ccbf"/>
<rect x="48.45" y="374.70" width="11.30" height="11.40" fill="#faf6f7"/>
<rect x="59.65" y="374.70" width="11.30" height="11.40" fill="#f8ccbf"/>
<rect x="70.85" y="374.70" width="11.30" height="11.40" fill="#fce5dd"/>
<rect x="82.05" y="374.70" width="11.30" height="11.40" fill="#f8ccbf"/>
<rect x="93.25" y="374.70" width="11.30" height="11.40" fill="#faf6f7"/>
<rect x="104.45" y="374.70" width="11.30" height="11.40" fill="#e84c3b"/>
<rect x="115.65" y="374.70" width="11.30" height="11.40" fill="#f8ccbf"/>
<rect x="126.85" y="374.70" width="11.30" height="11.40" fill="#f8ccbf"/>
<rect x="138.05" y="374.70" width="11.30" height="11.40" fill="#f8ccbf"/>
<rect x="149.25" y="374.70" width="11.30" height="11.40" fill="#fce5dd"/>
<rect x="37.25" y="386.00" width="11.30" height="11.40" fill="#fce5dd"/>
<rect x="48.45" y="386.00" width="11.30" height="11.40" fill="#ede7f1"/>
<rect x="59.65" y="386.00" width="11.30" height="11.40" fill="#faf6f7"/>
<rect x="70.85" y="386.00" width="11.30" height="11.40" fill="#f5b3a1"/>
<rect x="82.05" y="386.00" width="11.30" height="11.40" fill="#f8ccbf"/>
<rect x="93.25" y="386.00" width="11.30" height="11.40" fill="#fce5dd"/>
<rect x="104.45" y="386.00" width="11.30" height="11.40" fill="#e84c3b"/>
<rect x="115.65" y="386.00" width="11.30" height="11.40" fill="#fce5dd"/>
<rect x="126.85" y="386.00" width="11.30" height="11.40" fill="#f8ccbf"/>
<rect x="138.05" y="386.00" width="11.30" height="11.40" fill="#f8ccbf"/>
<rect x="149.25" y="386.00" width="11.30" height="11.40" fill="#fce5dd"/>
<rect x="37.25" y="397.30" width="11.30" height="11.40" fill="#fce5dd"/>
<rect x="48.45" y="397.30" width="11.30" height="11.40" fill="#faf6f7"/>
<rect x="59.65" y="397.30" width="11.30" height="11.40" fill="#fce5dd"/>
<rect x="70.85" y="397.30" width="11.30" height="11.40" fill="#fce5dd"/>
<rect x="82.05" y="397.30" width="11.30" height="11.40" fill="#f5b3a1"/>
<rect x="93.25" y="397.30" width="11.30" height="11.40" fill="#faf6f7"/>
<rect x="104.45" y="397.30" width="11.30" height="11.40" fill="#ee806a"/>
<rect x="115.65" y="397.30" width="11.30" height="11.40" fill="#fce5dd"/>
<rect x="126.85" y="397.30" width="11.30" height="11.40" fill="#f5b3a1"/>
<rect x="138.05" y="397.30" width="11.30" height="11.40" fill="#fce5dd"/>
<rect x="37.25" y="408.60" width="11.30" height="11.40" fill="#ee806a"/>
<rect x="48.45" y="408.60" width="11.30" height="11.40" fill="#ee806a"/>
<rect x="59.65" y="408.60" width="11.30" height="11.40" fill="#f19985"/>
<rect x="70.85" y="408.60" width="11.30" height="11.40" fill="#f8ccbf"/>
<rect x="82.05" y="408.60" width="11.30" height="11.40" fill="#f5b3a1"/>
<rect x="93.25" y="408.60" width="11.30" height="11.40" fill="#faf6f7"/>
<rect x="104.45" y="408.60" width="11.30" height="11.40" fill="#e3282a"/>
<rect x="115.65" y="408.60" width="11.30" height="11.40" fill="#f8ccbf"/>
<rect x="126.85" y="408.60" width="11.30" height="11.40" fill="#f5b3a1"/>
<rect x="37.25" y="419.90" width="11.30" height="11.40" fill="#f8ccbf"/>
<rect x="48.45" y="419.90" width="11.30" height="11.40" fill="#fce5dd"/>
<rect x="59.65" y="419.90" width="11.30" height="11.40" fill="#f8ccbf"/>
<rect x="70.85" y="419.90" width="11.30" height="11.40" fill="#faf6f7"/>
<rect x="82.05" y="419.90" width="11.30" height="11.40" fill="#fce5dd"/>
<rect x="93.25" y="419.90" width="11.30" height="11.40" fill="#faf6f7"/>
<rect x="104.45" y="419.90" width="11.30" height="11.40" fill="#eb6751"/>
<rect x="115.65" y="419.90" width="11.30" height="11.40" fill="#faf6f7"/>
<rect x="37.25" y="431.20" width="11.30" height="11.40" fill="#eb6751"/>
<rect x="48.45" y="431.20" width="11.30" height="11.40" fill="#e84c3b"/>
<rect x="59.65" y="431.20" width="11.30" height="11.40" fill="#eb6751"/>
<rect x="70.85" y="431.20" width="11.30" height="11.40" fill="#f19985"/>
<rect x="82.05" y="431.20" width="11.30" height="11.40" fill="#f19985"/>
<rect x="93.25" y="431.20" width="11.30" height="11.40" fill="#e84c3b"/>
<rect x="104.45" y="431.20" width="11.30" height="11.40" fill="#e84c3b"/>
<rect x="37.25" y="442.50" width="11.30" height="11.40" fill="#faf6f7"/>
<rect x="48.45" y="442.50" width="11.30" height="11.40" fill="#a294c9"/>
<rect x="59.65" y="442.50" width="11.30" height="11.40" fill="#faf6f7"/>
<rect x="70.85" y="442.50" width="11.30" height="11.40" fill="#f8ccbf"/>
<rect x="82.05" y="442.50" width="11.30" height="11.40" fill="#faf6f7"/>
<rect x="93.25" y="442.50" width="11.30" height="11.40" fill="#faf6f7"/>
<rect x="37.25" y="453.80" width="11.30" height="11.40" fill="#f5b3a1"/>
<rect x="48.45" y="453.80" width="11.30" height="11.40" fill="#f19985"/>
<rect x="59.65" y="453.80" width="11.30" height="11.40" fill="#f5b3a1"/>
<rect x="70.85" y="453.80" width="11.30" height="11.40" fill="#f5b3a1"/>
<rect x="82.05" y="453.80" width="11.30" height="11.40" fill="#fce5dd"/>
<rect x="37.25" y="465.10" width="11.30" height="11.40" fill="#f19985"/>
<rect x="48.45" y="465.10" width="11.30" height="11.40" fill="#f8ccbf"/>
<rect x="59.65" y="465.10" width="11.30" height="11.40" fill="#fce5dd"/>
<rect x="70.85" y="465.10" width="11.30" height="11.40" fill="#fce5dd"/>
<rect x="37.25" y="476.40" width="11.30" height="11.40" fill="#f8ccbf"/>
<rect x="48.45" y="476.40" width="11.30" height="11.40" fill="#fce5dd"/>
<rect x="59.65" y="476.40" width="11.30" height="11.40" fill="#fce5dd"/>
<rect x="37.25" y="487.70" width="11.30" height="11.40" fill="#fce5dd"/>
<rect x="48.45" y="487.70" width="11.30" height="11.40" fill="#f5b3a1"/>
<rect x="37.25" y="499.00" width="11.30" height="11.40" fill="#fce5dd"/>
<text x="42.85" y="382.55" font-size="6.3" text-anchor="middle" fill="#1a1a1a" stroke="#1a1a1a" stroke-width="0.15">0.2</text>
<text x="54.05" y="382.55" font-size="6.3" text-anchor="middle" fill="#1a1a1a" stroke="#1a1a1a" stroke-width="0.15">0</text>
<text x="65.25" y="382.55" font-size="6.3" text-anchor="middle" fill="#1a1a1a" stroke="#1a1a1a" stroke-width="0.15">0.2</text>
<text x="76.45" y="382.55" font-size="6.3" text-anchor="middle" fill="#1a1a1a" stroke="#1a1a1a" stroke-width="0.15">0.1</text>
<text x="87.65" y="382.55" font-size="6.3" text-anchor="middle" fill="#1a1a1a" stroke="#1a1a1a" stroke-width="0.15">0.2</text>
<text x="98.85" y="382.55" font-size="6.3" text-anchor="middle" fill="#1a1a1a" stroke="#1a1a1a" stroke-width="0.15">0</text>
<text x="110.05" y="382.55" font-size="6.3" text-anchor="middle" fill="#1a1a1a" stroke="#1a1a1a" stroke-width="0.15">0.7</text>
<text x="121.25" y="382.55" font-size="6.3" text-anchor="middle" fill="#1a1a1a" stroke="#1a1a1a" stroke-width="0.15">0.2</text>
<text x="132.45" y="382.55" font-size="6.3" text-anchor="middle" fill="#1a1a1a" stroke="#1a1a1a" stroke-width="0.15">0.2</text>
<text x="143.65" y="382.55" font-size="6.3" text-anchor="middle" fill="#1a1a1a" stroke="#1a1a1a" stroke-width="0.15">0.2</text>
<text x="154.85" y="382.55" font-size="6.3" text-anchor="middle" fill="#1a1a1a" stroke="#1a1a1a" stroke-width="0.15">0.1</text>
<text x="42.85" y="393.85" font-size="6.3" text-anchor="middle" fill="#1a1a1a" stroke="#1a1a1a" stroke-width="0.15">0.1</text>
<text x="54.05" y="393.85" font-size="6.3" text-anchor="middle" fill="#1a1a1a" stroke="#1a1a1a" stroke-width="0.15">−0.1</text>
<text x="65.25" y="393.85" font-size="6.3" text-anchor="middle" fill="#1a1a1a" stroke="#1a1a1a" stroke-width="0.15">0</text>
<text x="76.45" y="393.85" font-size="6.3" text-anchor="middle" fill="#1a1a1a" stroke="#1a1a1a" stroke-width="0.15">0.3</text>
<text x="87.65" y="393.85" font-size="6.3" text-anchor="middle" fill="#1a1a1a" stroke="#1a1a1a" stroke-width="0.15">0.2</text>
<text x="98.85" y="393.85" font-size="6.3" text-anchor="middle" fill="#1a1a1a" stroke="#1a1a1a" stroke-width="0.15">0.1</text>
<text x="110.05" y="393.85" font-size="6.3" text-anchor="middle" fill="#1a1a1a" stroke="#1a1a1a" stroke-width="0.15">0.7</text>
<text x="121.25" y="393.85" font-size="6.3" text-anchor="middle" fill="#1a1a1a" stroke="#1a1a1a" stroke-width="0.15">0.1</text>
<text x="132.45" y="393.85" font-size="6.3" text-anchor="middle" fill="#1a1a1a" stroke="#1a1a1a" stroke-width="0.15">0.2</text>
<text x="143.65" y="393.85" font-size="6.3" text-anchor="middle" fill="#1a1a1a" stroke="#1a1a1a" stroke-width="0.15">0.2</text>
<text x="154.85" y="393.85" font-size="6.3" text-anchor="middle" fill="#1a1a1a" stroke="#1a1a1a" stroke-width="0.15">0.1</text>
<text x="42.85" y="405.15" font-size="6.3" text-anchor="middle" fill="#1a1a1a" stroke="#1a1a1a" stroke-width="0.15">0.1</text>
<text x="54.05" y="405.15" font-size="6.3" text-anchor="middle" fill="#1a1a1a" stroke="#1a1a1a" stroke-width="0.15">0</text>
<text x="65.25" y="405.15" font-size="6.3" text-anchor="middle" fill="#1a1a1a" stroke="#1a1a1a" stroke-width="0.15">0.1</text>
<text x="76.45" y="405.15" font-size="6.3" text-anchor="middle" fill="#1a1a1a" stroke="#1a1a1a" stroke-width="0.15">0.1</text>
<text x="87.65" y="405.15" font-size="6.3" text-anchor="middle" fill="#1a1a1a" stroke="#1a1a1a" stroke-width="0.15">0.3</text>
<text x="98.85" y="405.15" font-size="6.3" text-anchor="middle" fill="#1a1a1a" stroke="#1a1a1a" stroke-width="0.15">0</text>
<text x="110.05" y="405.15" font-size="6.3" text-anchor="middle" fill="#1a1a1a" stroke="#1a1a1a" stroke-width="0.15">0.5</text>
<text x="121.25" y="405.15" font-size="6.3" text-anchor="middle" fill="#1a1a1a" stroke="#1a1a1a" stroke-width="0.15">0.1</text>
<text x="132.45" y="405.15" font-size="6.3" text-anchor="middle" fill="#1a1a1a" stroke="#1a1a1a" stroke-width="0.15">0.3</text>
<text x="143.65" y="405.15" font-size="6.3" text-anchor="middle" fill="#1a1a1a" stroke="#1a1a1a" stroke-width="0.15">0.1</text>
<text x="42.85" y="416.45" font-size="6.3" text-anchor="middle" fill="#1a1a1a" stroke="#1a1a1a" stroke-width="0.15">0.5</text>
<text x="54.05" y="416.45" font-size="6.3" text-anchor="middle" fill="#1a1a1a" stroke="#1a1a1a" stroke-width="0.15">0.5</text>
<text x="65.25" y="416.45" font-size="6.3" text-anchor="middle" fill="#1a1a1a" stroke="#1a1a1a" stroke-width="0.15">0.4</text>
<text x="76.45" y="416.45" font-size="6.3" text-anchor="middle" fill="#1a1a1a" stroke="#1a1a1a" stroke-width="0.15">0.2</text>
<text x="87.65" y="416.45" font-size="6.3" text-anchor="middle" fill="#1a1a1a" stroke="#1a1a1a" stroke-width="0.15">0.3</text>
<text x="98.85" y="416.45" font-size="6.3" text-anchor="middle" fill="#1a1a1a" stroke="#1a1a1a" stroke-width="0.15">0</text>
<text x="110.05" y="416.45" font-size="6.3" text-anchor="middle" fill="#1a1a1a" stroke="#1a1a1a" stroke-width="0.15">0.8</text>
<text x="121.25" y="416.45" font-size="6.3" text-anchor="middle" fill="#1a1a1a" stroke="#1a1a1a" stroke-width="0.15">0.2</text>
<text x="132.45" y="416.45" font-size="6.3" text-anchor="middle" fill="#1a1a1a" stroke="#1a1a1a" stroke-width="0.15">0.3</text>
<text x="42.85" y="427.75" font-size="6.3" text-anchor="middle" fill="#1a1a1a" stroke="#1a1a1a" stroke-width="0.15">0.2</text>
<text x="54.05" y="427.75" font-size="6.3" text-anchor="middle" fill="#1a1a1a" stroke="#1a1a1a" stroke-width="0.15">0.1</text>
<text x="65.25" y="427.75" font-size="6.3" text-anchor="middle" fill="#1a1a1a" stroke="#1a1a1a" stroke-width="0.15">0.2</text>
<text x="76.45" y="427.75" font-size="6.3" text-anchor="middle" fill="#1a1a1a" stroke="#1a1a1a" stroke-width="0.15">0</text>
<text x="87.65" y="427.75" font-size="6.3" text-anchor="middle" fill="#1a1a1a" stroke="#1a1a1a" stroke-width="0.15">0.1</text>
<text x="98.85" y="427.75" font-size="6.3" text-anchor="middle" fill="#1a1a1a" stroke="#1a1a1a" stroke-width="0.15">0</text>
<text x="110.05" y="427.75" font-size="6.3" text-anchor="middle" fill="#1a1a1a" stroke="#1a1a1a" stroke-width="0.15">0.6</text>
<text x="121.25" y="427.75" font-size="6.3" text-anchor="middle" fill="#1a1a1a" stroke="#1a1a1a" stroke-width="0.15">0</text>
<text x="42.85" y="439.05" font-size="6.3" text-anchor="middle" fill="#1a1a1a" stroke="#1a1a1a" stroke-width="0.15">0.6</text>
<text x="54.05" y="439.05" font-size="6.3" text-anchor="middle" fill="#1a1a1a" stroke="#1a1a1a" stroke-width="0.15">0.7</text>
<text x="65.25" y="439.05" font-size="6.3" text-anchor="middle" fill="#1a1a1a" stroke="#1a1a1a" stroke-width="0.15">0.6</text>
<text x="76.45" y="439.05" font-size="6.3" text-anchor="middle" fill="#1a1a1a" stroke="#1a1a1a" stroke-width="0.15">0.4</text>
<text x="87.65" y="439.05" font-size="6.3" text-anchor="middle" fill="#1a1a1a" stroke="#1a1a1a" stroke-width="0.15">0.4</text>
<text x="98.85" y="439.05" font-size="6.3" text-anchor="middle" fill="#1a1a1a" stroke="#1a1a1a" stroke-width="0.15">0.7</text>
<text x="110.05" y="439.05" font-size="6.3" text-anchor="middle" fill="#1a1a1a" stroke="#1a1a1a" stroke-width="0.15">0.7</text>
<text x="42.85" y="450.35" font-size="6.3" text-anchor="middle" fill="#1a1a1a" stroke="#1a1a1a" stroke-width="0.15">0</text>
<text x="54.05" y="450.35" font-size="6.3" text-anchor="middle" fill="#1a1a1a" stroke="#1a1a1a" stroke-width="0.15">−0.3</text>
<text x="65.25" y="450.35" font-size="6.3" text-anchor="middle" fill="#1a1a1a" stroke="#1a1a1a" stroke-width="0.15">0</text>
<text x="76.45" y="450.35" font-size="6.3" text-anchor="middle" fill="#1a1a1a" stroke="#1a1a1a" stroke-width="0.15">0.2</text>
<text x="87.65" y="450.35" font-size="6.3" text-anchor="middle" fill="#1a1a1a" stroke="#1a1a1a" stroke-width="0.15">0</text>
<text x="98.85" y="450.35" font-size="6.3" text-anchor="middle" fill="#1a1a1a" stroke="#1a1a1a" stroke-width="0.15">0</text>
<text x="42.85" y="461.65" font-size="6.3" text-anchor="middle" fill="#1a1a1a" stroke="#1a1a1a" stroke-width="0.15">0.3</text>
<text x="54.05" y="461.65" font-size="6.3" text-anchor="middle" fill="#1a1a1a" stroke="#1a1a1a" stroke-width="0.15">0.4</text>
<text x="65.25" y="461.65" font-size="6.3" text-anchor="middle" fill="#1a1a1a" stroke="#1a1a1a" stroke-width="0.15">0.3</text>
<text x="76.45" y="461.65" font-size="6.3" text-anchor="middle" fill="#1a1a1a" stroke="#1a1a1a" stroke-width="0.15">0.3</text>
<text x="87.65" y="461.65" font-size="6.3" text-anchor="middle" fill="#1a1a1a" stroke="#1a1a1a" stroke-width="0.15">0.1</text>
<text x="42.85" y="472.95" font-size="6.3" text-anchor="middle" fill="#1a1a1a" stroke="#1a1a1a" stroke-width="0.15">0.4</text>
<text x="54.05" y="472.95" font-size="6.3" text-anchor="middle" fill="#1a1a1a" stroke="#1a1a1a" stroke-width="0.15">0.2</text>
<text x="65.25" y="472.95" font-size="6.3" text-anchor="middle" fill="#1a1a1a" stroke="#1a1a1a" stroke-width="0.15">0.1</text>
<text x="76.45" y="472.95" font-size="6.3" text-anchor="middle" fill="#1a1a1a" stroke="#1a1a1a" stroke-width="0.15">0.1</text>
<text x="42.85" y="484.25" font-size="6.3" text-anchor="middle" fill="#1a1a1a" stroke="#1a1a1a" stroke-width="0.15">0.2</text>
<text x="54.05" y="484.25" font-size="6.3" text-anchor="middle" fill="#1a1a1a" stroke="#1a1a1a" stroke-width="0.15">0.1</text>
<text x="65.25" y="484.25" font-size="6.3" text-anchor="middle" fill="#1a1a1a" stroke="#1a1a1a" stroke-width="0.15">0.1</text>
<text x="42.85" y="495.55" font-size="6.3" text-anchor="middle" fill="#1a1a1a" stroke="#1a1a1a" stroke-width="0.15">0.1</text>
<text x="54.05" y="495.55" font-size="6.3" text-anchor="middle" fill="#1a1a1a" stroke="#1a1a1a" stroke-width="0.15">0.3</text>
<text x="42.85" y="506.85" font-size="6.3" text-anchor="middle" fill="#1a1a1a" stroke="#1a1a1a" stroke-width="0.15">0.1</text>
<polyline points="162.00,372.9 36.4,372.9 36.4,510.90" fill="none" stroke="#000" stroke-width="1.2"/>
<line x1="42.85" y1="369.70" x2="42.85" y2="372.90" stroke="#000" stroke-width="1.0" />
<text x="43.75" y="366.30" font-size="7.8" stroke="#151314" stroke-width="0.31" transform="rotate(-45 43.75 366.30)">1–7</text>
<line x1="54.05" y1="369.70" x2="54.05" y2="372.90" stroke="#000" stroke-width="1.0" />
<text x="54.95" y="366.30" font-size="7.8" stroke="#151314" stroke-width="0.31" transform="rotate(-45 54.95 366.30)">8–17</text>
<line x1="65.25" y1="369.70" x2="65.25" y2="372.90" stroke="#000" stroke-width="1.0" />
<text x="66.15" y="366.30" font-size="7.8" stroke="#151314" stroke-width="0.31" transform="rotate(-45 66.15 366.30)">18–27</text>
<line x1="76.45" y1="369.70" x2="76.45" y2="372.90" stroke="#000" stroke-width="1.0" />
<text x="77.35" y="366.30" font-size="7.8" stroke="#151314" stroke-width="0.31" transform="rotate(-45 77.35 366.30)">28–37</text>
<line x1="87.65" y1="369.70" x2="87.65" y2="372.90" stroke="#000" stroke-width="1.0" />
<text x="88.55" y="366.30" font-size="7.8" stroke="#151314" stroke-width="0.31" transform="rotate(-45 88.55 366.30)">38–47</text>
<line x1="98.85" y1="369.70" x2="98.85" y2="372.90" stroke="#000" stroke-width="1.0" />
<text x="99.75" y="366.30" font-size="7.8" stroke="#151314" stroke-width="0.31" transform="rotate(-45 99.75 366.30)">48–57</text>
<line x1="110.05" y1="369.70" x2="110.05" y2="372.90" stroke="#000" stroke-width="1.0" />
<text x="110.95" y="366.30" font-size="7.8" stroke="#151314" stroke-width="0.31" transform="rotate(-45 110.95 366.30)">58–67</text>
<line x1="121.25" y1="369.70" x2="121.25" y2="372.90" stroke="#000" stroke-width="1.0" />
<text x="122.15" y="366.30" font-size="7.8" stroke="#151314" stroke-width="0.31" transform="rotate(-45 122.15 366.30)">68–77</text>
<line x1="132.45" y1="369.70" x2="132.45" y2="372.90" stroke="#000" stroke-width="1.0" />
<text x="133.35" y="366.30" font-size="7.8" stroke="#151314" stroke-width="0.31" transform="rotate(-45 133.35 366.30)">78–87</text>
<line x1="143.65" y1="369.70" x2="143.65" y2="372.90" stroke="#000" stroke-width="1.0" />
<text x="144.55" y="366.30" font-size="7.8" stroke="#151314" stroke-width="0.31" transform="rotate(-45 144.55 366.30)">88–97</text>
<line x1="154.85" y1="369.70" x2="154.85" y2="372.90" stroke="#000" stroke-width="1.0" />
<text x="155.75" y="366.30" font-size="7.8" stroke="#151314" stroke-width="0.31" transform="rotate(-45 155.75 366.30)">98–107</text>
<line x1="33.00" y1="380.35" x2="36.40" y2="380.35" stroke="#000" stroke-width="1.0" />
<text x="30.20" y="383.20" font-size="7.8" text-anchor="end" stroke="#151314" stroke-width="0.19">108–117</text>
<line x1="33.00" y1="391.65" x2="36.40" y2="391.65" stroke="#000" stroke-width="1.0" />
<text x="30.20" y="394.50" font-size="7.8" text-anchor="end" stroke="#151314" stroke-width="0.19">98–107</text>
<line x1="33.00" y1="402.95" x2="36.40" y2="402.95" stroke="#000" stroke-width="1.0" />
<text x="30.20" y="405.80" font-size="7.8" text-anchor="end" stroke="#151314" stroke-width="0.19">88–97</text>
<line x1="33.00" y1="414.25" x2="36.40" y2="414.25" stroke="#000" stroke-width="1.0" />
<text x="30.20" y="417.10" font-size="7.8" text-anchor="end" stroke="#151314" stroke-width="0.19">78–87</text>
<line x1="33.00" y1="425.55" x2="36.40" y2="425.55" stroke="#000" stroke-width="1.0" />
<text x="30.20" y="428.40" font-size="7.8" text-anchor="end" stroke="#151314" stroke-width="0.19">68–77</text>
<line x1="33.00" y1="436.85" x2="36.40" y2="436.85" stroke="#000" stroke-width="1.0" />
<text x="30.20" y="439.70" font-size="7.8" text-anchor="end" stroke="#151314" stroke-width="0.19">58–67</text>
<line x1="33.00" y1="448.15" x2="36.40" y2="448.15" stroke="#000" stroke-width="1.0" />
<text x="30.20" y="451.00" font-size="7.8" text-anchor="end" stroke="#151314" stroke-width="0.19">48–57</text>
<line x1="33.00" y1="459.45" x2="36.40" y2="459.45" stroke="#000" stroke-width="1.0" />
<text x="30.20" y="462.30" font-size="7.8" text-anchor="end" stroke="#151314" stroke-width="0.19">38–47</text>
<line x1="33.00" y1="470.75" x2="36.40" y2="470.75" stroke="#000" stroke-width="1.0" />
<text x="30.20" y="473.60" font-size="7.8" text-anchor="end" stroke="#151314" stroke-width="0.19">28–37</text>
<line x1="33.00" y1="482.05" x2="36.40" y2="482.05" stroke="#000" stroke-width="1.0" />
<text x="30.20" y="484.90" font-size="7.8" text-anchor="end" stroke="#151314" stroke-width="0.19">18–27</text>
<line x1="33.00" y1="493.35" x2="36.40" y2="493.35" stroke="#000" stroke-width="1.0" />
<text x="30.20" y="496.20" font-size="7.8" text-anchor="end" stroke="#151314" stroke-width="0.19">8–17</text>
<line x1="33.00" y1="504.65" x2="36.40" y2="504.65" stroke="#000" stroke-width="1.0" />
<text x="30.20" y="507.50" font-size="7.8" text-anchor="end" stroke="#151314" stroke-width="0.19">1–7</text>
<linearGradient id="cbD" x1="0" y1="0" x2="0" y2="1"><stop offset="0.000" stop-color="#e3282a"/><stop offset="0.042" stop-color="#e53832"/><stop offset="0.083" stop-color="#e84839"/><stop offset="0.125" stop-color="#e95543"/><stop offset="0.167" stop-color="#ea624d"/><stop offset="0.208" stop-color="#ec6d57"/><stop offset="0.250" stop-color="#ed7862"/><stop offset="0.292" stop-color="#ee846e"/><stop offset="0.333" stop-color="#f08f7a"/><stop offset="0.375" stop-color="#f19a86"/><stop offset="0.417" stop-color="#f3a693"/><stop offset="0.458" stop-color="#f5b2a0"/><stop offset="0.500" stop-color="#f6bdad"/><stop offset="0.542" stop-color="#f8c8ba"/><stop offset="0.583" stop-color="#f9d4c8"/><stop offset="0.625" stop-color="#fbdfd6"/><stop offset="0.667" stop-color="#fce8e2"/><stop offset="0.708" stop-color="#fbf0ee"/><stop offset="0.750" stop-color="#f9f4f6"/><stop offset="0.792" stop-color="#f3eef4"/><stop offset="0.833" stop-color="#ede7f1"/><stop offset="0.875" stop-color="#dfd8ea"/><stop offset="0.917" stop-color="#d1c8e4"/><stop offset="0.958" stop-color="#bfb4d9"/><stop offset="1.000" stop-color="#ab9ece"/></linearGradient>
<rect x="98.2" y="466.3" width="13.8" height="45.9" fill="url(#cbD)"/>
<text x="97.60" y="462.80" font-size="10.2" font-weight="bold" fill="#000" stroke="#000" stroke-width="0.27">Norm. R</text>
<line x1="98.20" y1="468.60" x2="100.80" y2="468.60" stroke="#fff" stroke-width="0.5" />
<line x1="109.40" y1="468.60" x2="112.00" y2="468.60" stroke="#fff" stroke-width="0.5" />
<text x="116.00" y="471.30" font-size="8.75" fill="#111" stroke="#111" stroke-width="0.22">0.75</text>
<line x1="98.20" y1="479.30" x2="100.80" y2="479.30" stroke="#fff" stroke-width="0.5" />
<line x1="109.40" y1="479.30" x2="112.00" y2="479.30" stroke="#fff" stroke-width="0.5" />
<text x="116.00" y="482.00" font-size="8.75" fill="#111" stroke="#111" stroke-width="0.22">0.50</text>
<line x1="98.20" y1="489.90" x2="100.80" y2="489.90" stroke="#fff" stroke-width="0.5" />
<line x1="109.40" y1="489.90" x2="112.00" y2="489.90" stroke="#fff" stroke-width="0.5" />
<text x="116.00" y="492.60" font-size="8.75" fill="#111" stroke="#111" stroke-width="0.22">0.25</text>
<line x1="98.20" y1="500.30" x2="100.80" y2="500.30" stroke="#fff" stroke-width="0.5" />
<line x1="109.40" y1="500.30" x2="112.00" y2="500.30" stroke="#fff" stroke-width="0.5" />
<text x="116.00" y="503.00" font-size="8.75" fill="#111" stroke="#111" stroke-width="0.22">0.00</text>
<line x1="98.20" y1="510.80" x2="100.80" y2="510.80" stroke="#fff" stroke-width="0.5" />
<line x1="109.40" y1="510.80" x2="112.00" y2="510.80" stroke="#fff" stroke-width="0.5" />
<text x="116.00" y="513.50" font-size="8.75" fill="#111" stroke="#111" stroke-width="0.22">−0.25</text>
<text font-size="24.3" font-weight="bold" fill="#231f20" stroke="#231f20" stroke-width="0.3" transform="translate(177.80 362.70) scale(0.960 1)">E</text>
<text x="200.70" y="354.60" font-size="10.2" font-weight="bold" fill="#000" stroke="#000" stroke-width="0.27">Chimeric Effect</text>
<rect x="201.0" y="357.2" width="9.4" height="9.2" fill="#e8273b"/>
<text x="213.00" y="363.70" font-size="7.6" fill="#2a2a2a" stroke="#2a2a2a" stroke-width="0.19">Enhanced w/ single</text>
<rect x="201.0" y="371.2" width="9.4" height="9.6" fill="url(#hatchL)"/>
<text x="213.00" y="373.50" font-size="6.33" fill="#2a2a2a" stroke="#2a2a2a" stroke-width="0.15">No enhancement w/ single</text>
<text x="213.00" y="380.80" font-size="6.33" fill="#2a2a2a" stroke="#2a2a2a" stroke-width="0.15">Enhanced w/ double</text>
<rect x="201.0" y="385.2" width="9.4" height="8.8" fill="#b2b6b6"/>
<text x="213.00" y="391.20" font-size="7.6" fill="#2a2a2a" stroke="#2a2a2a" stroke-width="0.19">No enhancement</text>
<rect x="202.65" y="398.2" width="7.1" height="21.20" fill="#e8273b"/>
<rect x="202.65" y="419.40" width="7.1" height="46.18" fill="url(#hatch)"/>
<rect x="202.65" y="465.57" width="7.1" height="8.33" fill="#b2b6b6"/>
<line x1="202.65" y1="419.40" x2="209.75" y2="419.40" stroke="#000" stroke-width="1.2" />
<line x1="202.65" y1="465.57" x2="209.75" y2="465.57" stroke="#000" stroke-width="1.2" />
<rect x="202.65" y="398.80" width="7.1" height="75.10" fill="none" stroke="#000" stroke-width="1.5"/>
<rect x="214.38" y="398.2" width="7.1" height="14.38" fill="#e8273b"/>
<rect x="214.38" y="412.58" width="7.1" height="52.23" fill="url(#hatch)"/>
<rect x="214.38" y="464.82" width="7.1" height="9.08" fill="#b2b6b6"/>
<line x1="214.38" y1="412.58" x2="221.48" y2="412.58" stroke="#000" stroke-width="1.2" />
<line x1="214.38" y1="464.82" x2="221.48" y2="464.82" stroke="#000" stroke-width="1.2" />
<rect x="214.38" y="398.80" width="7.1" height="75.10" fill="none" stroke="#000" stroke-width="1.5"/>
<rect x="226.11" y="398.2" width="7.1" height="15.14" fill="#e8273b"/>
<rect x="226.11" y="413.34" width="7.1" height="52.99" fill="url(#hatch)"/>
<rect x="226.11" y="466.33" width="7.1" height="7.57" fill="#b2b6b6"/>
<line x1="226.11" y1="413.34" x2="233.21" y2="413.34" stroke="#000" stroke-width="1.2" />
<line x1="226.11" y1="466.33" x2="233.21" y2="466.33" stroke="#000" stroke-width="1.2" />
<rect x="226.11" y="398.80" width="7.1" height="75.10" fill="none" stroke="#000" stroke-width="1.5"/>
<rect x="237.84" y="398.2" width="7.1" height="22.71" fill="#e8273b"/>
<rect x="237.84" y="420.91" width="7.1" height="34.06" fill="url(#hatch)"/>
<rect x="237.84" y="454.97" width="7.1" height="18.93" fill="#b2b6b6"/>
<line x1="237.84" y1="420.91" x2="244.94" y2="420.91" stroke="#000" stroke-width="1.2" />
<line x1="237.84" y1="454.97" x2="244.94" y2="454.97" stroke="#000" stroke-width="1.2" />
<rect x="237.84" y="398.80" width="7.1" height="75.10" fill="none" stroke="#000" stroke-width="1.5"/>
<rect x="249.57" y="398.2" width="7.1" height="18.93" fill="#e8273b"/>
<rect x="249.57" y="417.12" width="7.1" height="42.39" fill="url(#hatch)"/>
<rect x="249.57" y="459.52" width="7.1" height="14.38" fill="#b2b6b6"/>
<line x1="249.57" y1="417.12" x2="256.67" y2="417.12" stroke="#000" stroke-width="1.2" />
<line x1="249.57" y1="459.52" x2="256.67" y2="459.52" stroke="#000" stroke-width="1.2" />
<rect x="249.57" y="398.80" width="7.1" height="75.10" fill="none" stroke="#000" stroke-width="1.5"/>
<rect x="261.30" y="398.2" width="7.1" height="4.54" fill="#e8273b"/>
<rect x="261.30" y="402.74" width="7.1" height="52.23" fill="url(#hatch)"/>
<rect x="261.30" y="454.97" width="7.1" height="18.93" fill="#b2b6b6"/>
<line x1="261.30" y1="402.74" x2="268.40" y2="402.74" stroke="#000" stroke-width="1.2" />
<line x1="261.30" y1="454.97" x2="268.40" y2="454.97" stroke="#000" stroke-width="1.2" />
<rect x="261.30" y="398.80" width="7.1" height="75.10" fill="none" stroke="#000" stroke-width="1.5"/>
<rect x="273.03" y="398.2" width="7.1" height="43.91" fill="#e8273b"/>
<rect x="273.03" y="442.11" width="7.1" height="22.71" fill="url(#hatch)"/>
<rect x="273.03" y="464.82" width="7.1" height="9.08" fill="#b2b6b6"/>
<line x1="273.03" y1="442.11" x2="280.13" y2="442.11" stroke="#000" stroke-width="1.2" />
<line x1="273.03" y1="464.82" x2="280.13" y2="464.82" stroke="#000" stroke-width="1.2" />
<rect x="273.03" y="398.80" width="7.1" height="75.10" fill="none" stroke="#000" stroke-width="1.5"/>
<rect x="284.76" y="398.2" width="7.1" height="8.33" fill="#e8273b"/>
<rect x="284.76" y="406.53" width="7.1" height="29.52" fill="url(#hatch)"/>
<rect x="284.76" y="436.05" width="7.1" height="37.85" fill="#b2b6b6"/>
<line x1="284.76" y1="406.53" x2="291.86" y2="406.53" stroke="#000" stroke-width="1.2" />
<line x1="284.76" y1="436.05" x2="291.86" y2="436.05" stroke="#000" stroke-width="1.2" />
<rect x="284.76" y="398.80" width="7.1" height="75.10" fill="none" stroke="#000" stroke-width="1.5"/>
<rect x="296.49" y="398.2" width="7.1" height="30.28" fill="#e8273b"/>
<rect x="296.49" y="428.48" width="7.1" height="7.57" fill="url(#hatch)"/>
<rect x="296.49" y="436.05" width="7.1" height="37.85" fill="#b2b6b6"/>
<line x1="296.49" y1="428.48" x2="303.59" y2="428.48" stroke="#000" stroke-width="1.2" />
<line x1="296.49" y1="436.05" x2="303.59" y2="436.05" stroke="#000" stroke-width="1.2" />
<rect x="296.49" y="398.80" width="7.1" height="75.10" fill="none" stroke="#000" stroke-width="1.5"/>
<rect x="308.22" y="398.2" width="7.1" height="14.38" fill="#e8273b"/>
<rect x="308.22" y="412.58" width="7.1" height="12.11" fill="url(#hatch)"/>
<rect x="308.22" y="424.69" width="7.1" height="49.20" fill="#b2b6b6"/>
<line x1="308.22" y1="412.58" x2="315.32" y2="412.58" stroke="#000" stroke-width="1.2" />
<line x1="308.22" y1="424.69" x2="315.32" y2="424.69" stroke="#000" stroke-width="1.2" />
<rect x="308.22" y="398.80" width="7.1" height="75.10" fill="none" stroke="#000" stroke-width="1.5"/>
<rect x="319.95" y="398.2" width="7.1" height="15.52" fill="#e8273b"/>
<rect x="319.95" y="413.72" width="7.1" height="12.49" fill="url(#hatch)"/>
<rect x="319.95" y="426.21" width="7.1" height="47.69" fill="#b2b6b6"/>
<line x1="319.95" y1="413.72" x2="327.05" y2="413.72" stroke="#000" stroke-width="1.2" />
<line x1="319.95" y1="426.21" x2="327.05" y2="426.21" stroke="#000" stroke-width="1.2" />
<rect x="319.95" y="398.80" width="7.1" height="75.10" fill="none" stroke="#000" stroke-width="1.5"/>
<polyline points="198.80,397.5 198.80,473.9 330.6,473.9" fill="none" stroke="#000" stroke-width="1.6"/>
<line x1="195.40" y1="398.20" x2="198.80" y2="398.20" stroke="#000" stroke-width="1.4" />
<text x="192.90" y="401.35" font-size="8.6" text-anchor="end" stroke="#151314" stroke-width="0.22">1.00</text>
<line x1="195.40" y1="417.12" x2="198.80" y2="417.12" stroke="#000" stroke-width="1.4" />
<text x="192.90" y="420.27" font-size="8.6" text-anchor="end" stroke="#151314" stroke-width="0.22">0.75</text>
<line x1="195.40" y1="436.05" x2="198.80" y2="436.05" stroke="#000" stroke-width="1.4" />
<text x="192.90" y="439.20" font-size="8.6" text-anchor="end" stroke="#151314" stroke-width="0.22">0.50</text>
<line x1="195.40" y1="454.97" x2="198.80" y2="454.97" stroke="#000" stroke-width="1.4" />
<text x="192.90" y="458.12" font-size="8.6" text-anchor="end" stroke="#151314" stroke-width="0.22">0.25</text>
<line x1="195.40" y1="473.90" x2="198.80" y2="473.90" stroke="#000" stroke-width="1.4" />
<text x="192.90" y="477.05" font-size="8.6" text-anchor="end" stroke="#151314" stroke-width="0.22">0.00</text>
<line x1="206.20" y1="473.90" x2="206.20" y2="477.50" stroke="#000" stroke-width="1.4" />
<text x="210.20" y="484.30" font-size="8.7" text-anchor="end" stroke="#151314" stroke-width="0.34" transform="rotate(-45 210.20 484.30)">1–7</text>
<line x1="217.93" y1="473.90" x2="217.93" y2="477.50" stroke="#000" stroke-width="1.4" />
<text x="221.93" y="484.30" font-size="8.7" text-anchor="end" stroke="#151314" stroke-width="0.34" transform="rotate(-45 221.93 484.30)">8–17</text>
<line x1="229.66" y1="473.90" x2="229.66" y2="477.50" stroke="#000" stroke-width="1.4" />
<text x="233.66" y="484.30" font-size="8.7" text-anchor="end" stroke="#151314" stroke-width="0.34" transform="rotate(-45 233.66 484.30)">18–27</text>
<line x1="241.39" y1="473.90" x2="241.39" y2="477.50" stroke="#000" stroke-width="1.4" />
<text x="245.39" y="484.30" font-size="8.7" text-anchor="end" stroke="#151314" stroke-width="0.34" transform="rotate(-45 245.39 484.30)">28–37</text>
<line x1="253.12" y1="473.90" x2="253.12" y2="477.50" stroke="#000" stroke-width="1.4" />
<text x="257.12" y="484.30" font-size="8.7" text-anchor="end" stroke="#151314" stroke-width="0.34" transform="rotate(-45 257.12 484.30)">38–47</text>
<line x1="264.85" y1="473.90" x2="264.85" y2="477.50" stroke="#000" stroke-width="1.4" />
<text x="268.85" y="484.30" font-size="8.7" text-anchor="end" stroke="#151314" stroke-width="0.34" transform="rotate(-45 268.85 484.30)">48–57</text>
<line x1="276.58" y1="473.90" x2="276.58" y2="477.50" stroke="#000" stroke-width="1.4" />
<text x="280.58" y="484.30" font-size="8.7" text-anchor="end" stroke="#151314" stroke-width="0.34" transform="rotate(-45 280.58 484.30)">58–67</text>
<line x1="288.31" y1="473.90" x2="288.31" y2="477.50" stroke="#000" stroke-width="1.4" />
<text x="292.31" y="484.30" font-size="8.7" text-anchor="end" stroke="#151314" stroke-width="0.34" transform="rotate(-45 292.31 484.30)">68–77</text>
<line x1="300.04" y1="473.90" x2="300.04" y2="477.50" stroke="#000" stroke-width="1.4" />
<text x="304.04" y="484.30" font-size="8.7" text-anchor="end" stroke="#151314" stroke-width="0.34" transform="rotate(-45 304.04 484.30)">78–87</text>
<line x1="311.77" y1="473.90" x2="311.77" y2="477.50" stroke="#000" stroke-width="1.4" />
<text x="315.77" y="484.30" font-size="8.7" text-anchor="end" stroke="#151314" stroke-width="0.34" transform="rotate(-45 315.77 484.30)">88–97</text>
<line x1="323.50" y1="473.90" x2="323.50" y2="477.50" stroke="#000" stroke-width="1.4" />
<text x="327.50" y="484.30" font-size="8.7" text-anchor="end" stroke="#151314" stroke-width="0.34" transform="rotate(-45 327.50 484.30)">98–107</text>
<text x="264.80" y="518.90" font-size="11.45" text-anchor="middle" stroke="#151314" stroke-width="0.30">Single Chimera Position</text>
<text fill="#151314" stroke="#151314" stroke-width="0.34" font-size="11.5" text-anchor="middle" transform="translate(168.90 436) rotate(-90)">Fraction</text>
<text font-size="24.3" font-weight="bold" fill="#231f20" stroke="#231f20" stroke-width="0.3" transform="translate(360.40 362.70) scale(0.960 1)">F</text>
<rect x="377.75" y="374.70" width="11.30" height="11.40" fill="#faf6f7"/>
<rect x="388.95" y="374.70" width="11.30" height="11.40" fill="#fce8e2"/>
<rect x="400.15" y="374.70" width="11.30" height="11.40" fill="#d9d2ea"/>
<rect x="411.35" y="374.70" width="11.30" height="11.40" fill="#d9d2ea"/>
<rect x="422.55" y="374.70" width="11.30" height="11.40" fill="#bfb5dd"/>
<rect x="433.75" y="374.70" width="11.30" height="11.40" fill="#fce8e2"/>
<rect x="444.95" y="374.70" width="11.30" height="11.40" fill="#f7c2b3"/>
<rect x="456.15" y="374.70" width="11.30" height="11.40" fill="#f19985"/>
<rect x="467.35" y="374.70" width="11.30" height="11.40" fill="#fad6cb"/>
<rect x="478.55" y="374.70" width="11.30" height="11.40" fill="#d9d2ea"/>
<rect x="489.75" y="374.70" width="11.30" height="11.40" fill="#fce8e2"/>
<rect x="377.75" y="386.00" width="11.30" height="11.40" fill="#fad6cb"/>
<rect x="388.95" y="386.00" width="11.30" height="11.40" fill="#fad6cb"/>
<rect x="400.15" y="386.00" width="11.30" height="11.40" fill="#faf6f7"/>
<rect x="411.35" y="386.00" width="11.30" height="11.40" fill="#f4ae9b"/>
<rect x="422.55" y="386.00" width="11.30" height="11.40" fill="#f7c2b3"/>
<rect x="433.75" y="386.00" width="11.30" height="11.40" fill="#fce8e2"/>
<rect x="444.95" y="386.00" width="11.30" height="11.40" fill="#fce8e2"/>
<rect x="456.15" y="386.00" width="11.30" height="11.40" fill="#fad6cb"/>
<rect x="467.35" y="386.00" width="11.30" height="11.40" fill="#fce8e2"/>
<rect x="478.55" y="386.00" width="11.30" height="11.40" fill="#faf6f7"/>
<rect x="489.75" y="386.00" width="11.30" height="11.40" fill="#fce8e2"/>
<rect x="377.75" y="397.30" width="11.30" height="11.40" fill="#f7c2b3"/>
<rect x="388.95" y="397.30" width="11.30" height="11.40" fill="#faf6f7"/>
<rect x="400.15" y="397.30" width="11.30" height="11.40" fill="#fce8e2"/>
<rect x="411.35" y="397.30" width="11.30" height="11.40" fill="#fad6cb"/>
<rect x="422.55" y="397.30" width="11.30" height="11.40" fill="#fce8e2"/>
<rect x="433.75" y="397.30" width="11.30" height="11.40" fill="#fce8e2"/>
<rect x="444.95" y="397.30" width="11.30" height="11.40" fill="#f19985"/>
<rect x="456.15" y="397.30" width="11.30" height="11.40" fill="#e3282a"/>
<rect x="467.35" y="397.30" width="11.30" height="11.40" fill="#fad6cb"/>
<rect x="478.55" y="397.30" width="11.30" height="11.40" fill="#faf6f7"/>
<rect x="377.75" y="408.60" width="11.30" height="11.40" fill="#fad6cb"/>
<rect x="388.95" y="408.60" width="11.30" height="11.40" fill="#fce8e2"/>
<rect x="400.15" y="408.60" width="11.30" height="11.40" fill="#f4ae9b"/>
<rect x="411.35" y="408.60" width="11.30" height="11.40" fill="#f4ae9b"/>
<rect x="422.55" y="408.60" width="11.30" height="11.40" fill="#fce8e2"/>
<rect x="433.75" y="408.60" width="11.30" height="11.40" fill="#fce8e2"/>
<rect x="444.95" y="408.60" width="11.30" height="11.40" fill="#f7c2b3"/>
<rect x="456.15" y="408.60" width="11.30" height="11.40" fill="#f19985"/>
<rect x="467.35" y="408.60" width="11.30" height="11.40" fill="#fce8e2"/>
<rect x="377.75" y="419.90" width="11.30" height="11.40" fill="#e74538"/>
<rect x="388.95" y="419.90" width="11.30" height="11.40" fill="#ec715b"/>
<rect x="400.15" y="419.90" width="11.30" height="11.40" fill="#ef856f"/>
<rect x="411.35" y="419.90" width="11.30" height="11.40" fill="#ef856f"/>
<rect x="422.55" y="419.90" width="11.30" height="11.40" fill="#fad6cb"/>
<rect x="433.75" y="419.90" width="11.30" height="11.40" fill="#ef856f"/>
<rect x="444.95" y="419.90" width="11.30" height="11.40" fill="#f4ae9b"/>
<rect x="456.15" y="419.90" width="11.30" height="11.40" fill="#ec715b"/>
<rect x="377.75" y="431.20" width="11.30" height="11.40" fill="#f19985"/>
<rect x="388.95" y="431.20" width="11.30" height="11.40" fill="#f7c2b3"/>
<rect x="400.15" y="431.20" width="11.30" height="11.40" fill="#f4ae9b"/>
<rect x="411.35" y="431.20" width="11.30" height="11.40" fill="#ef856f"/>
<rect x="422.55" y="431.20" width="11.30" height="11.40" fill="#f7c2b3"/>
<rect x="433.75" y="431.20" width="11.30" height="11.40" fill="#f7c2b3"/>
<rect x="444.95" y="431.20" width="11.30" height="11.40" fill="#f7c2b3"/>
<rect x="377.75" y="442.50" width="11.30" height="11.40" fill="#d9d2ea"/>
<rect x="388.95" y="442.50" width="11.30" height="11.40" fill="#efeaf4"/>
<rect x="400.15" y="442.50" width="11.30" height="11.40" fill="#faf6f7"/>
<rect x="411.35" y="442.50" width="11.30" height="11.40" fill="#fce8e2"/>
<rect x="422.55" y="442.50" width="11.30" height="11.40" fill="#fce8e2"/>
<rect x="433.75" y="442.50" width="11.30" height="11.40" fill="#faf6f7"/>
<rect x="377.75" y="453.80" width="11.30" height="11.40" fill="#efeaf4"/>
<rect x="388.95" y="453.80" width="11.30" height="11.40" fill="#fad6cb"/>
<rect x="400.15" y="453.80" width="11.30" height="11.40" fill="#efeaf4"/>
<rect x="411.35" y="453.80" width="11.30" height="11.40" fill="#fad6cb"/>
<rect x="422.55" y="453.80" width="11.30" height="11.40" fill="#fce8e2"/>
<rect x="377.75" y="465.10" width="11.30" height="11.40" fill="#fad6cb"/>
<rect x="388.95" y="465.10" width="11.30" height="11.40" fill="#fad6cb"/>
<rect x="400.15" y="465.10" width="11.30" height="11.40" fill="#fad6cb"/>
<rect x="411.35" y="465.10" width="11.30" height="11.40" fill="#fad6cb"/>
<rect x="377.75" y="476.40" width="11.30" height="11.40" fill="#faf6f7"/>
<rect x="388.95" y="476.40" width="11.30" height="11.40" fill="#efeaf4"/>
<rect x="400.15" y="476.40" width="11.30" height="11.40" fill="#fce8e2"/>
<rect x="377.75" y="487.70" width="11.30" height="11.40" fill="#fce8e2"/>
<rect x="388.95" y="487.70" width="11.30" height="11.40" fill="#fce8e2"/>
<rect x="377.75" y="499.00" width="11.30" height="11.40" fill="#fce8e2"/>
<text x="383.35" y="382.55" font-size="6.3" text-anchor="middle" fill="#1a1a1a" stroke="#1a1a1a" stroke-width="0.15">0</text>
<text x="394.55" y="382.55" font-size="6.3" text-anchor="middle" fill="#1a1a1a" stroke="#1a1a1a" stroke-width="0.15">0.1</text>
<text x="405.75" y="382.55" font-size="6.3" text-anchor="middle" fill="#1a1a1a" stroke="#1a1a1a" stroke-width="0.15">−0.2</text>
<text x="416.95" y="382.55" font-size="6.3" text-anchor="middle" fill="#1a1a1a" stroke="#1a1a1a" stroke-width="0.15">−0.2</text>
<text x="428.15" y="382.55" font-size="6.3" text-anchor="middle" fill="#1a1a1a" stroke="#1a1a1a" stroke-width="0.15">−0.3</text>
<text x="439.35" y="382.55" font-size="6.3" text-anchor="middle" fill="#1a1a1a" stroke="#1a1a1a" stroke-width="0.15">0.1</text>
<text x="450.55" y="382.55" font-size="6.3" text-anchor="middle" fill="#1a1a1a" stroke="#1a1a1a" stroke-width="0.15">0.3</text>
<text x="461.75" y="382.55" font-size="6.3" text-anchor="middle" fill="#1a1a1a" stroke="#1a1a1a" stroke-width="0.15">0.5</text>
<text x="472.95" y="382.55" font-size="6.3" text-anchor="middle" fill="#1a1a1a" stroke="#1a1a1a" stroke-width="0.15">0.2</text>
<text x="484.15" y="382.55" font-size="6.3" text-anchor="middle" fill="#1a1a1a" stroke="#1a1a1a" stroke-width="0.15">−0.2</text>
<text x="495.35" y="382.55" font-size="6.3" text-anchor="middle" fill="#1a1a1a" stroke="#1a1a1a" stroke-width="0.15">0.1</text>
<text x="383.35" y="393.85" font-size="6.3" text-anchor="middle" fill="#1a1a1a" stroke="#1a1a1a" stroke-width="0.15">0.2</text>
<text x="394.55" y="393.85" font-size="6.3" text-anchor="middle" fill="#1a1a1a" stroke="#1a1a1a" stroke-width="0.15">0.2</text>
<text x="405.75" y="393.85" font-size="6.3" text-anchor="middle" fill="#1a1a1a" stroke="#1a1a1a" stroke-width="0.15">0</text>
<text x="416.95" y="393.85" font-size="6.3" text-anchor="middle" fill="#1a1a1a" stroke="#1a1a1a" stroke-width="0.15">0.4</text>
<text x="428.15" y="393.85" font-size="6.3" text-anchor="middle" fill="#1a1a1a" stroke="#1a1a1a" stroke-width="0.15">0.3</text>
<text x="439.35" y="393.85" font-size="6.3" text-anchor="middle" fill="#1a1a1a" stroke="#1a1a1a" stroke-width="0.15">0.1</text>
<text x="450.55" y="393.85" font-size="6.3" text-anchor="middle" fill="#1a1a1a" stroke="#1a1a1a" stroke-width="0.15">0.1</text>
<text x="461.75" y="393.85" font-size="6.3" text-anchor="middle" fill="#1a1a1a" stroke="#1a1a1a" stroke-width="0.15">0.2</text>
<text x="472.95" y="393.85" font-size="6.3" text-anchor="middle" fill="#1a1a1a" stroke="#1a1a1a" stroke-width="0.15">0.1</text>
<text x="484.15" y="393.85" font-size="6.3" text-anchor="middle" fill="#1a1a1a" stroke="#1a1a1a" stroke-width="0.15">0</text>
<text x="495.35" y="393.85" font-size="6.3" text-anchor="middle" fill="#1a1a1a" stroke="#1a1a1a" stroke-width="0.15">0.1</text>
<text x="383.35" y="405.15" font-size="6.3" text-anchor="middle" fill="#1a1a1a" stroke="#1a1a1a" stroke-width="0.15">0.3</text>
<text x="394.55" y="405.15" font-size="6.3" text-anchor="middle" fill="#1a1a1a" stroke="#1a1a1a" stroke-width="0.15">0</text>
<text x="405.75" y="405.15" font-size="6.3" text-anchor="middle" fill="#1a1a1a" stroke="#1a1a1a" stroke-width="0.15">0.1</text>
<text x="416.95" y="405.15" font-size="6.3" text-anchor="middle" fill="#1a1a1a" stroke="#1a1a1a" stroke-width="0.15">0.2</text>
<text x="428.15" y="405.15" font-size="6.3" text-anchor="middle" fill="#1a1a1a" stroke="#1a1a1a" stroke-width="0.15">0.1</text>
<text x="439.35" y="405.15" font-size="6.3" text-anchor="middle" fill="#1a1a1a" stroke="#1a1a1a" stroke-width="0.15">0.1</text>
<text x="450.55" y="405.15" font-size="6.3" text-anchor="middle" fill="#1a1a1a" stroke="#1a1a1a" stroke-width="0.15">0.5</text>
<text x="461.75" y="405.15" font-size="6.3" text-anchor="middle" fill="#1a1a1a" stroke="#1a1a1a" stroke-width="0.15">1</text>
<text x="472.95" y="405.15" font-size="6.3" text-anchor="middle" fill="#1a1a1a" stroke="#1a1a1a" stroke-width="0.15">0.2</text>
<text x="484.15" y="405.15" font-size="6.3" text-anchor="middle" fill="#1a1a1a" stroke="#1a1a1a" stroke-width="0.15">0</text>
<text x="383.35" y="416.45" font-size="6.3" text-anchor="middle" fill="#1a1a1a" stroke="#1a1a1a" stroke-width="0.15">0.2</text>
<text x="394.55" y="416.45" font-size="6.3" text-anchor="middle" fill="#1a1a1a" stroke="#1a1a1a" stroke-width="0.15">0.1</text>
<text x="405.75" y="416.45" font-size="6.3" text-anchor="middle" fill="#1a1a1a" stroke="#1a1a1a" stroke-width="0.15">0.4</text>
<text x="416.95" y="416.45" font-size="6.3" text-anchor="middle" fill="#1a1a1a" stroke="#1a1a1a" stroke-width="0.15">0.4</text>
<text x="428.15" y="416.45" font-size="6.3" text-anchor="middle" fill="#1a1a1a" stroke="#1a1a1a" stroke-width="0.15">0.1</text>
<text x="439.35" y="416.45" font-size="6.3" text-anchor="middle" fill="#1a1a1a" stroke="#1a1a1a" stroke-width="0.15">0.1</text>
<text x="450.55" y="416.45" font-size="6.3" text-anchor="middle" fill="#1a1a1a" stroke="#1a1a1a" stroke-width="0.15">0.3</text>
<text x="461.75" y="416.45" font-size="6.3" text-anchor="middle" fill="#1a1a1a" stroke="#1a1a1a" stroke-width="0.15">0.5</text>
<text x="472.95" y="416.45" font-size="6.3" text-anchor="middle" fill="#1a1a1a" stroke="#1a1a1a" stroke-width="0.15">0.1</text>
<text x="383.35" y="427.75" font-size="6.3" text-anchor="middle" fill="#1a1a1a" stroke="#1a1a1a" stroke-width="0.15">0.9</text>
<text x="394.55" y="427.75" font-size="6.3" text-anchor="middle" fill="#1a1a1a" stroke="#1a1a1a" stroke-width="0.15">0.7</text>
<text x="405.75" y="427.75" font-size="6.3" text-anchor="middle" fill="#1a1a1a" stroke="#1a1a1a" stroke-width="0.15">0.6</text>
<text x="416.95" y="427.75" font-size="6.3" text-anchor="middle" fill="#1a1a1a" stroke="#1a1a1a" stroke-width="0.15">0.6</text>
<text x="428.15" y="427.75" font-size="6.3" text-anchor="middle" fill="#1a1a1a" stroke="#1a1a1a" stroke-width="0.15">0.2</text>
<text x="439.35" y="427.75" font-size="6.3" text-anchor="middle" fill="#1a1a1a" stroke="#1a1a1a" stroke-width="0.15">0.6</text>
<text x="450.55" y="427.75" font-size="6.3" text-anchor="middle" fill="#1a1a1a" stroke="#1a1a1a" stroke-width="0.15">0.4</text>
<text x="461.75" y="427.75" font-size="6.3" text-anchor="middle" fill="#1a1a1a" stroke="#1a1a1a" stroke-width="0.15">0.7</text>
<text x="383.35" y="439.05" font-size="6.3" text-anchor="middle" fill="#1a1a1a" stroke="#1a1a1a" stroke-width="0.15">0.5</text>
<text x="394.55" y="439.05" font-size="6.3" text-anchor="middle" fill="#1a1a1a" stroke="#1a1a1a" stroke-width="0.15">0.3</text>
<text x="405.75" y="439.05" font-size="6.3" text-anchor="middle" fill="#1a1a1a" stroke="#1a1a1a" stroke-width="0.15">0.4</text>
<text x="416.95" y="439.05" font-size="6.3" text-anchor="middle" fill="#1a1a1a" stroke="#1a1a1a" stroke-width="0.15">0.6</text>
<text x="428.15" y="439.05" font-size="6.3" text-anchor="middle" fill="#1a1a1a" stroke="#1a1a1a" stroke-width="0.15">0.3</text>
<text x="439.35" y="439.05" font-size="6.3" text-anchor="middle" fill="#1a1a1a" stroke="#1a1a1a" stroke-width="0.15">0.3</text>
<text x="450.55" y="439.05" font-size="6.3" text-anchor="middle" fill="#1a1a1a" stroke="#1a1a1a" stroke-width="0.15">0.3</text>
<text x="383.35" y="450.35" font-size="6.3" text-anchor="middle" fill="#1a1a1a" stroke="#1a1a1a" stroke-width="0.15">−0.2</text>
<text x="394.55" y="450.35" font-size="6.3" text-anchor="middle" fill="#1a1a1a" stroke="#1a1a1a" stroke-width="0.15">−0.1</text>
<text x="405.75" y="450.35" font-size="6.3" text-anchor="middle" fill="#1a1a1a" stroke="#1a1a1a" stroke-width="0.15">0</text>
<text x="416.95" y="450.35" font-size="6.3" text-anchor="middle" fill="#1a1a1a" stroke="#1a1a1a" stroke-width="0.15">0.1</text>
<text x="428.15" y="450.35" font-size="6.3" text-anchor="middle" fill="#1a1a1a" stroke="#1a1a1a" stroke-width="0.15">0.1</text>
<text x="439.35" y="450.35" font-size="6.3" text-anchor="middle" fill="#1a1a1a" stroke="#1a1a1a" stroke-width="0.15">0</text>
<text x="383.35" y="461.65" font-size="6.3" text-anchor="middle" fill="#1a1a1a" stroke="#1a1a1a" stroke-width="0.15">−0.1</text>
<text x="394.55" y="461.65" font-size="6.3" text-anchor="middle" fill="#1a1a1a" stroke="#1a1a1a" stroke-width="0.15">0.2</text>
<text x="405.75" y="461.65" font-size="6.3" text-anchor="middle" fill="#1a1a1a" stroke="#1a1a1a" stroke-width="0.15">−0.1</text>
<text x="416.95" y="461.65" font-size="6.3" text-anchor="middle" fill="#1a1a1a" stroke="#1a1a1a" stroke-width="0.15">0.2</text>
<text x="428.15" y="461.65" font-size="6.3" text-anchor="middle" fill="#1a1a1a" stroke="#1a1a1a" stroke-width="0.15">0.1</text>
<text x="383.35" y="472.95" font-size="6.3" text-anchor="middle" fill="#1a1a1a" stroke="#1a1a1a" stroke-width="0.15">0.2</text>
<text x="394.55" y="472.95" font-size="6.3" text-anchor="middle" fill="#1a1a1a" stroke="#1a1a1a" stroke-width="0.15">0.2</text>
<text x="405.75" y="472.95" font-size="6.3" text-anchor="middle" fill="#1a1a1a" stroke="#1a1a1a" stroke-width="0.15">0.2</text>
<text x="416.95" y="472.95" font-size="6.3" text-anchor="middle" fill="#1a1a1a" stroke="#1a1a1a" stroke-width="0.15">0.2</text>
<text x="383.35" y="484.25" font-size="6.3" text-anchor="middle" fill="#1a1a1a" stroke="#1a1a1a" stroke-width="0.15">0</text>
<text x="394.55" y="484.25" font-size="6.3" text-anchor="middle" fill="#1a1a1a" stroke="#1a1a1a" stroke-width="0.15">−0.1</text>
<text x="405.75" y="484.25" font-size="6.3" text-anchor="middle" fill="#1a1a1a" stroke="#1a1a1a" stroke-width="0.15">0.1</text>
<text x="383.35" y="495.55" font-size="6.3" text-anchor="middle" fill="#1a1a1a" stroke="#1a1a1a" stroke-width="0.15">0.1</text>
<text x="394.55" y="495.55" font-size="6.3" text-anchor="middle" fill="#1a1a1a" stroke="#1a1a1a" stroke-width="0.15">0.1</text>
<text x="383.35" y="506.85" font-size="6.3" text-anchor="middle" fill="#1a1a1a" stroke="#1a1a1a" stroke-width="0.15">0.1</text>
<polyline points="502.50,372.9 376.9,372.9 376.9,510.90" fill="none" stroke="#000" stroke-width="1.2"/>
<line x1="383.35" y1="369.70" x2="383.35" y2="372.90" stroke="#000" stroke-width="1.0" />
<text x="384.25" y="366.30" font-size="7.8" stroke="#151314" stroke-width="0.31" transform="rotate(-45 384.25 366.30)">1–7</text>
<line x1="394.55" y1="369.70" x2="394.55" y2="372.90" stroke="#000" stroke-width="1.0" />
<text x="395.45" y="366.30" font-size="7.8" stroke="#151314" stroke-width="0.31" transform="rotate(-45 395.45 366.30)">8–17</text>
<line x1="405.75" y1="369.70" x2="405.75" y2="372.90" stroke="#000" stroke-width="1.0" />
<text x="406.65" y="366.30" font-size="7.8" stroke="#151314" stroke-width="0.31" transform="rotate(-45 406.65 366.30)">18–27</text>
<line x1="416.95" y1="369.70" x2="416.95" y2="372.90" stroke="#000" stroke-width="1.0" />
<text x="417.85" y="366.30" font-size="7.8" stroke="#151314" stroke-width="0.31" transform="rotate(-45 417.85 366.30)">28–37</text>
<line x1="428.15" y1="369.70" x2="428.15" y2="372.90" stroke="#000" stroke-width="1.0" />
<text x="429.05" y="366.30" font-size="7.8" stroke="#151314" stroke-width="0.31" transform="rotate(-45 429.05 366.30)">38–47</text>
<line x1="439.35" y1="369.70" x2="439.35" y2="372.90" stroke="#000" stroke-width="1.0" />
<text x="440.25" y="366.30" font-size="7.8" stroke="#151314" stroke-width="0.31" transform="rotate(-45 440.25 366.30)">48–57</text>
<line x1="450.55" y1="369.70" x2="450.55" y2="372.90" stroke="#000" stroke-width="1.0" />
<text x="451.45" y="366.30" font-size="7.8" stroke="#151314" stroke-width="0.31" transform="rotate(-45 451.45 366.30)">58–67</text>
<line x1="461.75" y1="369.70" x2="461.75" y2="372.90" stroke="#000" stroke-width="1.0" />
<text x="462.65" y="366.30" font-size="7.8" stroke="#151314" stroke-width="0.31" transform="rotate(-45 462.65 366.30)">68–77</text>
<line x1="472.95" y1="369.70" x2="472.95" y2="372.90" stroke="#000" stroke-width="1.0" />
<text x="473.85" y="366.30" font-size="7.8" stroke="#151314" stroke-width="0.31" transform="rotate(-45 473.85 366.30)">78–87</text>
<line x1="484.15" y1="369.70" x2="484.15" y2="372.90" stroke="#000" stroke-width="1.0" />
<text x="485.05" y="366.30" font-size="7.8" stroke="#151314" stroke-width="0.31" transform="rotate(-45 485.05 366.30)">88–97</text>
<line x1="495.35" y1="369.70" x2="495.35" y2="372.90" stroke="#000" stroke-width="1.0" />
<text x="496.25" y="366.30" font-size="7.8" stroke="#151314" stroke-width="0.31" transform="rotate(-45 496.25 366.30)">98–107</text>
<line x1="373.50" y1="380.35" x2="376.90" y2="380.35" stroke="#000" stroke-width="1.0" />
<text x="370.70" y="383.20" font-size="7.8" text-anchor="end" stroke="#151314" stroke-width="0.19">108–117</text>
<line x1="373.50" y1="391.65" x2="376.90" y2="391.65" stroke="#000" stroke-width="1.0" />
<text x="370.70" y="394.50" font-size="7.8" text-anchor="end" stroke="#151314" stroke-width="0.19">98–107</text>
<line x1="373.50" y1="402.95" x2="376.90" y2="402.95" stroke="#000" stroke-width="1.0" />
<text x="370.70" y="405.80" font-size="7.8" text-anchor="end" stroke="#151314" stroke-width="0.19">88–97</text>
<line x1="373.50" y1="414.25" x2="376.90" y2="414.25" stroke="#000" stroke-width="1.0" />
<text x="370.70" y="417.10" font-size="7.8" text-anchor="end" stroke="#151314" stroke-width="0.19">78–87</text>
<line x1="373.50" y1="425.55" x2="376.90" y2="425.55" stroke="#000" stroke-width="1.0" />
<text x="370.70" y="428.40" font-size="7.8" text-anchor="end" stroke="#151314" stroke-width="0.19">68–77</text>
<line x1="373.50" y1="436.85" x2="376.90" y2="436.85" stroke="#000" stroke-width="1.0" />
<text x="370.70" y="439.70" font-size="7.8" text-anchor="end" stroke="#151314" stroke-width="0.19">58–67</text>
<line x1="373.50" y1="448.15" x2="376.90" y2="448.15" stroke="#000" stroke-width="1.0" />
<text x="370.70" y="451.00" font-size="7.8" text-anchor="end" stroke="#151314" stroke-width="0.19">48–57</text>
<line x1="373.50" y1="459.45" x2="376.90" y2="459.45" stroke="#000" stroke-width="1.0" />
<text x="370.70" y="462.30" font-size="7.8" text-anchor="end" stroke="#151314" stroke-width="0.19">38–47</text>
<line x1="373.50" y1="470.75" x2="376.90" y2="470.75" stroke="#000" stroke-width="1.0" />
<text x="370.70" y="473.60" font-size="7.8" text-anchor="end" stroke="#151314" stroke-width="0.19">28–37</text>
<line x1="373.50" y1="482.05" x2="376.90" y2="482.05" stroke="#000" stroke-width="1.0" />
<text x="370.70" y="484.90" font-size="7.8" text-anchor="end" stroke="#151314" stroke-width="0.19">18–27</text>
<line x1="373.50" y1="493.35" x2="376.90" y2="493.35" stroke="#000" stroke-width="1.0" />
<text x="370.70" y="496.20" font-size="7.8" text-anchor="end" stroke="#151314" stroke-width="0.19">8–17</text>
<line x1="373.50" y1="504.65" x2="376.90" y2="504.65" stroke="#000" stroke-width="1.0" />
<text x="370.70" y="507.50" font-size="7.8" text-anchor="end" stroke="#151314" stroke-width="0.19">1–7</text>
<linearGradient id="cbF" x1="0" y1="0" x2="0" y2="1"><stop offset="0.000" stop-color="#e5342f"/><stop offset="0.042" stop-color="#e74337"/><stop offset="0.083" stop-color="#e8503f"/><stop offset="0.125" stop-color="#ea5c48"/><stop offset="0.167" stop-color="#eb6751"/><stop offset="0.208" stop-color="#ec725c"/><stop offset="0.250" stop-color="#ee7c66"/><stop offset="0.292" stop-color="#ef8771"/><stop offset="0.333" stop-color="#f0917c"/><stop offset="0.375" stop-color="#f19c88"/><stop offset="0.417" stop-color="#f3a794"/><stop offset="0.458" stop-color="#f5b19f"/><stop offset="0.500" stop-color="#f6bcac"/><stop offset="0.542" stop-color="#f7c6b8"/><stop offset="0.583" stop-color="#f9d1c5"/><stop offset="0.625" stop-color="#fadcd2"/><stop offset="0.667" stop-color="#fce6de"/><stop offset="0.708" stop-color="#fbede9"/><stop offset="0.750" stop-color="#faf4f4"/><stop offset="0.792" stop-color="#f6f2f6"/><stop offset="0.833" stop-color="#f0ebf4"/><stop offset="0.875" stop-color="#e6e0f0"/><stop offset="0.917" stop-color="#dad3ea"/><stop offset="0.958" stop-color="#cdc4e4"/><stop offset="1.000" stop-color="#bfb5dd"/></linearGradient>
<rect x="454.2" y="462" width="13.8" height="45.7" fill="url(#cbF)"/>
<text x="453.60" y="458.00" font-size="10.2" font-weight="bold" fill="#000" stroke="#000" stroke-width="0.27">Norm. R</text>
<line x1="454.20" y1="464.20" x2="456.80" y2="464.20" stroke="#fff" stroke-width="0.5" />
<line x1="465.40" y1="464.20" x2="468.00" y2="464.20" stroke="#fff" stroke-width="0.5" />
<text x="472.00" y="466.90" font-size="8.75" fill="#111" stroke="#111" stroke-width="0.22">0.9</text>
<line x1="454.20" y1="475.00" x2="456.80" y2="475.00" stroke="#fff" stroke-width="0.5" />
<line x1="465.40" y1="475.00" x2="468.00" y2="475.00" stroke="#fff" stroke-width="0.5" />
<text x="472.00" y="477.70" font-size="8.75" fill="#111" stroke="#111" stroke-width="0.22">0.6</text>
<line x1="454.20" y1="485.90" x2="456.80" y2="485.90" stroke="#fff" stroke-width="0.5" />
<line x1="465.40" y1="485.90" x2="468.00" y2="485.90" stroke="#fff" stroke-width="0.5" />
<text x="472.00" y="488.60" font-size="8.75" fill="#111" stroke="#111" stroke-width="0.22">0.3</text>
<line x1="454.20" y1="496.70" x2="456.80" y2="496.70" stroke="#fff" stroke-width="0.5" />
<line x1="465.40" y1="496.70" x2="468.00" y2="496.70" stroke="#fff" stroke-width="0.5" />
<text x="472.00" y="499.40" font-size="8.75" fill="#111" stroke="#111" stroke-width="0.22">0.0</text>
<text font-size="24.3" font-weight="bold" fill="#231f20" stroke="#231f20" stroke-width="0.3" transform="translate(516.80 362.70) scale(0.980 1)">G</text>
<text x="546.30" y="354.60" font-size="10.2" font-weight="bold" fill="#000" stroke="#000" stroke-width="0.27">Chimeric Effect</text>
<rect x="546.6" y="357.2" width="9.4" height="9.2" fill="#e8273b"/>
<text x="558.60" y="363.70" font-size="7.6" fill="#2a2a2a" stroke="#2a2a2a" stroke-width="0.19">Enhanced w/ single</text>
<rect x="546.6" y="371.2" width="9.4" height="9.6" fill="url(#hatchL)"/>
<text x="558.60" y="373.50" font-size="6.33" fill="#2a2a2a" stroke="#2a2a2a" stroke-width="0.15">No enhancement w/ single</text>
<text x="558.60" y="380.80" font-size="6.33" fill="#2a2a2a" stroke="#2a2a2a" stroke-width="0.15">Enhanced w/ double</text>
<rect x="546.6" y="385.2" width="9.4" height="8.8" fill="#b2b6b6"/>
<text x="558.60" y="391.20" font-size="7.6" fill="#2a2a2a" stroke="#2a2a2a" stroke-width="0.19">No enhancement</text>
<rect x="547.25" y="398.2" width="7.1" height="12.11" fill="#e8273b"/>
<rect x="547.25" y="410.31" width="7.1" height="33.31" fill="url(#hatch)"/>
<rect x="547.25" y="443.62" width="7.1" height="30.28" fill="#b2b6b6"/>
<line x1="547.25" y1="410.31" x2="554.35" y2="410.31" stroke="#000" stroke-width="1.2" />
<line x1="547.25" y1="443.62" x2="554.35" y2="443.62" stroke="#000" stroke-width="1.2" />
<rect x="547.25" y="398.80" width="7.1" height="75.10" fill="none" stroke="#000" stroke-width="1.5"/>
<rect x="558.98" y="398.2" width="7.1" height="14.38" fill="#e8273b"/>
<rect x="558.98" y="412.58" width="7.1" height="39.36" fill="url(#hatch)"/>
<rect x="558.98" y="451.95" width="7.1" height="21.95" fill="#b2b6b6"/>
<line x1="558.98" y1="412.58" x2="566.08" y2="412.58" stroke="#000" stroke-width="1.2" />
<line x1="558.98" y1="451.95" x2="566.08" y2="451.95" stroke="#000" stroke-width="1.2" />
<rect x="558.98" y="398.80" width="7.1" height="75.10" fill="none" stroke="#000" stroke-width="1.5"/>
<rect x="570.71" y="398.2" width="7.1" height="14.38" fill="#e8273b"/>
<rect x="570.71" y="412.58" width="7.1" height="36.34" fill="url(#hatch)"/>
<rect x="570.71" y="448.92" width="7.1" height="24.98" fill="#b2b6b6"/>
<line x1="570.71" y1="412.58" x2="577.81" y2="412.58" stroke="#000" stroke-width="1.2" />
<line x1="570.71" y1="448.92" x2="577.81" y2="448.92" stroke="#000" stroke-width="1.2" />
<rect x="570.71" y="398.80" width="7.1" height="75.10" fill="none" stroke="#000" stroke-width="1.5"/>
<rect x="582.44" y="398.2" width="7.1" height="27.25" fill="#e8273b"/>
<rect x="582.44" y="425.45" width="7.1" height="30.28" fill="url(#hatch)"/>
<rect x="582.44" y="455.73" width="7.1" height="18.17" fill="#b2b6b6"/>
<line x1="582.44" y1="425.45" x2="589.54" y2="425.45" stroke="#000" stroke-width="1.2" />
<line x1="582.44" y1="455.73" x2="589.54" y2="455.73" stroke="#000" stroke-width="1.2" />
<rect x="582.44" y="398.80" width="7.1" height="75.10" fill="none" stroke="#000" stroke-width="1.5"/>
<rect x="594.17" y="398.2" width="7.1" height="8.33" fill="#e8273b"/>
<rect x="594.17" y="406.53" width="7.1" height="45.42" fill="url(#hatch)"/>
<rect x="594.17" y="451.95" width="7.1" height="21.95" fill="#b2b6b6"/>
<line x1="594.17" y1="406.53" x2="601.27" y2="406.53" stroke="#000" stroke-width="1.2" />
<line x1="594.17" y1="451.95" x2="601.27" y2="451.95" stroke="#000" stroke-width="1.2" />
<rect x="594.17" y="398.80" width="7.1" height="75.10" fill="none" stroke="#000" stroke-width="1.5"/>
<rect x="605.90" y="398.2" width="7.1" height="9.84" fill="#e8273b"/>
<rect x="605.90" y="408.04" width="7.1" height="36.34" fill="url(#hatch)"/>
<rect x="605.90" y="444.38" width="7.1" height="29.52" fill="#b2b6b6"/>
<line x1="605.90" y1="408.04" x2="613.00" y2="408.04" stroke="#000" stroke-width="1.2" />
<line x1="605.90" y1="444.38" x2="613.00" y2="444.38" stroke="#000" stroke-width="1.2" />
<rect x="605.90" y="398.80" width="7.1" height="75.10" fill="none" stroke="#000" stroke-width="1.5"/>
<rect x="617.63" y="398.2" width="7.1" height="31.79" fill="#e8273b"/>
<rect x="617.63" y="429.99" width="7.1" height="28.01" fill="url(#hatch)"/>
<rect x="617.63" y="458.00" width="7.1" height="15.90" fill="#b2b6b6"/>
<line x1="617.63" y1="429.99" x2="624.73" y2="429.99" stroke="#000" stroke-width="1.2" />
<line x1="617.63" y1="458.00" x2="624.73" y2="458.00" stroke="#000" stroke-width="1.2" />
<rect x="617.63" y="398.80" width="7.1" height="75.10" fill="none" stroke="#000" stroke-width="1.5"/>
<rect x="629.36" y="398.2" width="7.1" height="41.63" fill="#e8273b"/>
<rect x="629.36" y="439.83" width="7.1" height="15.14" fill="url(#hatch)"/>
<rect x="629.36" y="454.97" width="7.1" height="18.93" fill="#b2b6b6"/>
<line x1="629.36" y1="439.83" x2="636.46" y2="439.83" stroke="#000" stroke-width="1.2" />
<line x1="629.36" y1="454.97" x2="636.46" y2="454.97" stroke="#000" stroke-width="1.2" />
<rect x="629.36" y="398.80" width="7.1" height="75.10" fill="none" stroke="#000" stroke-width="1.5"/>
<rect x="641.09" y="398.2" width="7.1" height="20.44" fill="#e8273b"/>
<rect x="641.09" y="418.64" width="7.1" height="21.20" fill="url(#hatch)"/>
<rect x="641.09" y="439.83" width="7.1" height="34.06" fill="#b2b6b6"/>
<line x1="641.09" y1="418.64" x2="648.19" y2="418.64" stroke="#000" stroke-width="1.2" />
<line x1="641.09" y1="439.83" x2="648.19" y2="439.83" stroke="#000" stroke-width="1.2" />
<rect x="641.09" y="398.80" width="7.1" height="75.10" fill="none" stroke="#000" stroke-width="1.5"/>
<rect x="652.82" y="398.2" width="7.1" height="18.93" fill="#e8273b"/>
<rect x="652.82" y="417.12" width="7.1" height="10.60" fill="url(#hatch)"/>
<rect x="652.82" y="427.72" width="7.1" height="46.18" fill="#b2b6b6"/>
<line x1="652.82" y1="417.12" x2="659.92" y2="417.12" stroke="#000" stroke-width="1.2" />
<line x1="652.82" y1="427.72" x2="659.92" y2="427.72" stroke="#000" stroke-width="1.2" />
<rect x="652.82" y="398.80" width="7.1" height="75.10" fill="none" stroke="#000" stroke-width="1.5"/>
<rect x="664.55" y="398.2" width="7.1" height="15.90" fill="#e8273b"/>
<rect x="664.55" y="414.10" width="7.1" height="14.38" fill="url(#hatch)"/>
<rect x="664.55" y="428.48" width="7.1" height="45.42" fill="#b2b6b6"/>
<line x1="664.55" y1="414.10" x2="671.65" y2="414.10" stroke="#000" stroke-width="1.2" />
<line x1="664.55" y1="428.48" x2="671.65" y2="428.48" stroke="#000" stroke-width="1.2" />
<rect x="664.55" y="398.80" width="7.1" height="75.10" fill="none" stroke="#000" stroke-width="1.5"/>
<polyline points="543.40,397.5 543.40,473.9 674.6,473.9" fill="none" stroke="#000" stroke-width="1.6"/>
<line x1="540.00" y1="398.20" x2="543.40" y2="398.20" stroke="#000" stroke-width="1.4" />
<text x="537.50" y="401.35" font-size="8.6" text-anchor="end" stroke="#151314" stroke-width="0.22">1.00</text>
<line x1="540.00" y1="417.12" x2="543.40" y2="417.12" stroke="#000" stroke-width="1.4" />
<text x="537.50" y="420.27" font-size="8.6" text-anchor="end" stroke="#151314" stroke-width="0.22">0.75</text>
<line x1="540.00" y1="436.05" x2="543.40" y2="436.05" stroke="#000" stroke-width="1.4" />
<text x="537.50" y="439.20" font-size="8.6" text-anchor="end" stroke="#151314" stroke-width="0.22">0.50</text>
<line x1="540.00" y1="454.97" x2="543.40" y2="454.97" stroke="#000" stroke-width="1.4" />
<text x="537.50" y="458.12" font-size="8.6" text-anchor="end" stroke="#151314" stroke-width="0.22">0.25</text>
<line x1="540.00" y1="473.90" x2="543.40" y2="473.90" stroke="#000" stroke-width="1.4" />
<text x="537.50" y="477.05" font-size="8.6" text-anchor="end" stroke="#151314" stroke-width="0.22">0.00</text>
<line x1="550.80" y1="473.90" x2="550.80" y2="477.50" stroke="#000" stroke-width="1.4" />
<text x="554.80" y="484.30" font-size="8.7" text-anchor="end" stroke="#151314" stroke-width="0.34" transform="rotate(-45 554.80 484.30)">1–7</text>
<line x1="562.53" y1="473.90" x2="562.53" y2="477.50" stroke="#000" stroke-width="1.4" />
<text x="566.53" y="484.30" font-size="8.7" text-anchor="end" stroke="#151314" stroke-width="0.34" transform="rotate(-45 566.53 484.30)">8–17</text>
<line x1="574.26" y1="473.90" x2="574.26" y2="477.50" stroke="#000" stroke-width="1.4" />
<text x="578.26" y="484.30" font-size="8.7" text-anchor="end" stroke="#151314" stroke-width="0.34" transform="rotate(-45 578.26 484.30)">18–27</text>
<line x1="585.99" y1="473.90" x2="585.99" y2="477.50" stroke="#000" stroke-width="1.4" />
<text x="589.99" y="484.30" font-size="8.7" text-anchor="end" stroke="#151314" stroke-width="0.34" transform="rotate(-45 589.99 484.30)">28–37</text>
<line x1="597.72" y1="473.90" x2="597.72" y2="477.50" stroke="#000" stroke-width="1.4" />
<text x="601.72" y="484.30" font-size="8.7" text-anchor="end" stroke="#151314" stroke-width="0.34" transform="rotate(-45 601.72 484.30)">38–47</text>
<line x1="609.45" y1="473.90" x2="609.45" y2="477.50" stroke="#000" stroke-width="1.4" />
<text x="613.45" y="484.30" font-size="8.7" text-anchor="end" stroke="#151314" stroke-width="0.34" transform="rotate(-45 613.45 484.30)">48–57</text>
<line x1="621.18" y1="473.90" x2="621.18" y2="477.50" stroke="#000" stroke-width="1.4" />
<text x="625.18" y="484.30" font-size="8.7" text-anchor="end" stroke="#151314" stroke-width="0.34" transform="rotate(-45 625.18 484.30)">58–67</text>
<line x1="632.91" y1="473.90" x2="632.91" y2="477.50" stroke="#000" stroke-width="1.4" />
<text x="636.91" y="484.30" font-size="8.7" text-anchor="end" stroke="#151314" stroke-width="0.34" transform="rotate(-45 636.91 484.30)">68–77</text>
<line x1="644.64" y1="473.90" x2="644.64" y2="477.50" stroke="#000" stroke-width="1.4" />
<text x="648.64" y="484.30" font-size="8.7" text-anchor="end" stroke="#151314" stroke-width="0.34" transform="rotate(-45 648.64 484.30)">78–87</text>
<line x1="656.37" y1="473.90" x2="656.37" y2="477.50" stroke="#000" stroke-width="1.4" />
<text x="660.37" y="484.30" font-size="8.7" text-anchor="end" stroke="#151314" stroke-width="0.34" transform="rotate(-45 660.37 484.30)">88–97</text>
<line x1="668.10" y1="473.90" x2="668.10" y2="477.50" stroke="#000" stroke-width="1.4" />
<text x="672.10" y="484.30" font-size="8.7" text-anchor="end" stroke="#151314" stroke-width="0.34" transform="rotate(-45 672.10 484.30)">98–107</text>
<text x="609.40" y="518.90" font-size="11.45" text-anchor="middle" stroke="#151314" stroke-width="0.30">Single Chimera Position</text>
<text fill="#151314" stroke="#151314" stroke-width="0.34" font-size="11.5" text-anchor="middle" transform="translate(513.50 436) rotate(-90)">Fraction</text>
<text font-size="24.3" font-weight="bold" fill="#231f20" stroke="#231f20" stroke-width="0.3" transform="translate(0.80 548.00) scale(0.930 1)">H</text>
<rect x="55.40" y="571.50" width="10.0" height="31.80" fill="#cc4389" stroke="#000" stroke-width="1.15"/>
<rect x="66.40" y="556.50" width="10.0" height="46.80" fill="#cc4389" stroke="#000" stroke-width="1.15"/>
<rect x="77.30" y="558.30" width="10.0" height="45.00" fill="#cc4389" stroke="#000" stroke-width="1.15"/>
<rect x="94.00" y="603.30" width="10.0" height="10.20" fill="#62a650" stroke="#000" stroke-width="1.15"/>
<rect x="105.00" y="603.30" width="10.0" height="21.10" fill="#62a650" stroke="#000" stroke-width="1.15"/>
<rect x="116.30" y="603.30" width="10.0" height="17.70" fill="#62a650" stroke="#000" stroke-width="1.15"/>
<rect x="132.50" y="593.30" width="10.0" height="10.00" fill="#3a6f7d" stroke="#000" stroke-width="1.15"/>
<rect x="143.60" y="585.40" width="10.0" height="17.90" fill="#3a6f7d" stroke="#000" stroke-width="1.15"/>
<rect x="154.70" y="583.70" width="10.0" height="19.60" fill="#3a6f7d" stroke="#000" stroke-width="1.15"/>
<rect x="171.20" y="576.30" width="10.0" height="27.00" fill="#8ecbc5" stroke="#000" stroke-width="1.15"/>
<rect x="182.40" y="568.30" width="10.0" height="35.00" fill="#8ecbc5" stroke="#000" stroke-width="1.15"/>
<rect x="193.50" y="566.50" width="10.0" height="36.80" fill="#8ecbc5" stroke="#000" stroke-width="1.15"/>
<line x1="60.40" y1="563.60" x2="60.40" y2="578.50" stroke="#000" stroke-width="1.1" /><line x1="57.60" y1="563.60" x2="63.20" y2="563.60" stroke="#000" stroke-width="1.1" /><line x1="57.60" y1="578.50" x2="63.20" y2="578.50" stroke="#000" stroke-width="1.1" />
<line x1="71.40" y1="554.90" x2="71.40" y2="557.30" stroke="#000" stroke-width="1.1" /><line x1="68.60" y1="554.90" x2="74.20" y2="554.90" stroke="#000" stroke-width="1.1" /><line x1="68.60" y1="557.30" x2="74.20" y2="557.30" stroke="#000" stroke-width="1.1" />
<line x1="82.30" y1="556.90" x2="82.30" y2="559.30" stroke="#000" stroke-width="1.1" /><line x1="79.50" y1="556.90" x2="85.10" y2="556.90" stroke="#000" stroke-width="1.1" /><line x1="79.50" y1="559.30" x2="85.10" y2="559.30" stroke="#000" stroke-width="1.1" />
<line x1="99.00" y1="612.60" x2="99.00" y2="615.40" stroke="#000" stroke-width="1.1" /><line x1="96.20" y1="612.60" x2="101.80" y2="612.60" stroke="#000" stroke-width="1.1" /><line x1="96.20" y1="615.40" x2="101.80" y2="615.40" stroke="#000" stroke-width="1.1" />
<line x1="110.00" y1="622.00" x2="110.00" y2="628.60" stroke="#000" stroke-width="1.1" /><line x1="107.20" y1="622.00" x2="112.80" y2="622.00" stroke="#000" stroke-width="1.1" /><line x1="107.20" y1="628.60" x2="112.80" y2="628.60" stroke="#000" stroke-width="1.1" />
<line x1="121.30" y1="618.00" x2="121.30" y2="626.40" stroke="#000" stroke-width="1.1" /><line x1="118.50" y1="618.00" x2="124.10" y2="618.00" stroke="#000" stroke-width="1.1" /><line x1="118.50" y1="626.40" x2="124.10" y2="626.40" stroke="#000" stroke-width="1.1" />
<line x1="137.50" y1="588.50" x2="137.50" y2="597.30" stroke="#000" stroke-width="1.1" /><line x1="134.70" y1="588.50" x2="140.30" y2="588.50" stroke="#000" stroke-width="1.1" /><line x1="134.70" y1="597.30" x2="140.30" y2="597.30" stroke="#000" stroke-width="1.1" />
<line x1="148.60" y1="580.80" x2="148.60" y2="589.00" stroke="#000" stroke-width="1.1" /><line x1="145.80" y1="580.80" x2="151.40" y2="580.80" stroke="#000" stroke-width="1.1" /><line x1="145.80" y1="589.00" x2="151.40" y2="589.00" stroke="#000" stroke-width="1.1" />
<line x1="159.70" y1="580.40" x2="159.70" y2="585.60" stroke="#000" stroke-width="1.1" /><line x1="156.90" y1="580.40" x2="162.50" y2="580.40" stroke="#000" stroke-width="1.1" /><line x1="156.90" y1="585.60" x2="162.50" y2="585.60" stroke="#000" stroke-width="1.1" />
<line x1="176.20" y1="571.50" x2="176.20" y2="580.30" stroke="#000" stroke-width="1.1" /><line x1="173.40" y1="571.50" x2="179.00" y2="571.50" stroke="#000" stroke-width="1.1" /><line x1="173.40" y1="580.30" x2="179.00" y2="580.30" stroke="#000" stroke-width="1.1" />
<line x1="187.40" y1="565.70" x2="187.40" y2="569.40" stroke="#000" stroke-width="1.1" /><line x1="184.60" y1="565.70" x2="190.20" y2="565.70" stroke="#000" stroke-width="1.1" /><line x1="184.60" y1="569.40" x2="190.20" y2="569.40" stroke="#000" stroke-width="1.1" />
<line x1="198.50" y1="565.00" x2="198.50" y2="566.80" stroke="#000" stroke-width="1.1" /><line x1="195.70" y1="565.00" x2="201.30" y2="565.00" stroke="#000" stroke-width="1.1" /><line x1="195.70" y1="566.80" x2="201.30" y2="566.80" stroke="#000" stroke-width="1.1" />
<circle cx="60.40" cy="565.90" r="2.1" fill="#000"/>
<circle cx="60.40" cy="576.40" r="2.1" fill="#000"/>
<line x1="67.60" y1="555.90" x2="75.40" y2="555.90" stroke="#000" stroke-width="2.0" />
<line x1="78.40" y1="558.20" x2="86.40" y2="558.20" stroke="#000" stroke-width="2.0" />
<circle cx="67.90" cy="555.50" r="1.9" fill="#000"/>
<circle cx="75.10" cy="555.20" r="1.9" fill="#000"/>
<circle cx="78.90" cy="559.00" r="1.9" fill="#000"/>
<circle cx="86.10" cy="557.80" r="1.9" fill="#000"/>
<line x1="94.40" y1="614.60" x2="103.80" y2="613.60" stroke="#000" stroke-width="2.2" />
<rect x="93.4" y="613.2" width="3.8" height="3.6" fill="#000"/>
<rect x="101.0" y="611.6" width="3.8" height="3.4" fill="#000"/>
<line x1="97.60" y1="614.30" x2="100.80" y2="613.90" stroke="#fff" stroke-width="0.6" stroke-dasharray="1.1 1.1"/>
<rect x="107.4" y="621.3" width="5.2" height="3.5" fill="#000"/>
<polygon points="107.30,628.76 112.70,628.76 110.00,623.90" fill="#000"/>
<polygon points="118.60,626.76 124.00,626.76 121.30,621.90" fill="#000"/>
<rect x="118.7" y="617.0" width="5.2" height="3.6" fill="#000"/>
<polygon points="135.10,588.28 139.90,588.28 137.50,592.60" fill="#000"/>
<polygon points="135.10,597.72 139.90,597.72 137.50,593.40" fill="#000"/>
<polygon points="146.20,580.68 151.00,580.68 148.60,585.00" fill="#000"/>
<polygon points="146.20,589.52 151.00,589.52 148.60,585.20" fill="#000"/>
<polygon points="157.30,579.88 162.10,579.88 159.70,584.20" fill="#000"/>
<polygon points="157.30,586.52 162.10,586.52 159.70,582.20" fill="#000"/>
<polygon points="173.80,571.48 178.60,571.48 176.20,575.80" fill="#000"/>
<polygon points="173.80,580.52 178.60,580.52 176.20,576.20" fill="#000"/>
<polygon points="185.00,564.48 189.80,564.48 187.40,568.80" fill="#000"/>
<polygon points="185.00,570.52 189.80,570.52 187.40,566.20" fill="#000"/>
<line x1="194.60" y1="565.90" x2="202.40" y2="565.90" stroke="#000" stroke-width="1.2" />
<polygon points="193.60,566.84 197.20,566.84 195.40,563.60" fill="#000"/>
<polygon points="199.80,566.84 203.40,566.84 201.60,563.60" fill="#000"/>
<polyline points="43.8,540.4 52.0,540.4 52.0,634.5 207,634.5" fill="none" stroke="#000" stroke-width="1.15"/>
<line x1="52.00" y1="603.30" x2="207.00" y2="603.30" stroke="#000" stroke-width="1.15" />
<line x1="43.80" y1="540.58" x2="52.00" y2="540.58" stroke="#000" stroke-width="1.15" />
<text x="41.30" y="544.28" font-size="10.4" text-anchor="end" stroke="#151314" stroke-width="0.27">8</text>
<line x1="43.80" y1="556.26" x2="52.00" y2="556.26" stroke="#000" stroke-width="1.15" />
<text x="41.30" y="559.96" font-size="10.4" text-anchor="end" stroke="#151314" stroke-width="0.27">6</text>
<line x1="43.80" y1="571.94" x2="52.00" y2="571.94" stroke="#000" stroke-width="1.15" />
<text x="41.30" y="575.64" font-size="10.4" text-anchor="end" stroke="#151314" stroke-width="0.27">4</text>
<line x1="43.80" y1="587.62" x2="52.00" y2="587.62" stroke="#000" stroke-width="1.15" />
<text x="41.30" y="591.32" font-size="10.4" text-anchor="end" stroke="#151314" stroke-width="0.27">2</text>
<line x1="43.80" y1="603.30" x2="52.00" y2="603.30" stroke="#000" stroke-width="1.15" />
<text x="41.30" y="607.00" font-size="10.4" text-anchor="end" stroke="#151314" stroke-width="0.27">0</text>
<line x1="43.80" y1="618.98" x2="52.00" y2="618.98" stroke="#000" stroke-width="1.15" />
<text x="41.30" y="622.68" font-size="10.4" text-anchor="end" stroke="#151314" stroke-width="0.27">-2</text>
<line x1="43.80" y1="634.66" x2="52.00" y2="634.66" stroke="#000" stroke-width="1.15" />
<text x="41.30" y="638.36" font-size="10.4" text-anchor="end" stroke="#151314" stroke-width="0.27">-4</text>
<line x1="60.40" y1="634.50" x2="60.40" y2="642.60" stroke="#000" stroke-width="1.15" />
<text x="62.60" y="651.20" font-size="9.0" text-anchor="end" stroke="#151314" stroke-width="0.35" transform="rotate(-45 62.60 651.20)">5nM</text>
<line x1="71.40" y1="634.50" x2="71.40" y2="642.60" stroke="#000" stroke-width="1.15" />
<text x="73.60" y="651.20" font-size="9.0" text-anchor="end" stroke="#151314" stroke-width="0.35" transform="rotate(-45 73.60 651.20)">50nM</text>
<line x1="82.30" y1="634.50" x2="82.30" y2="642.60" stroke="#000" stroke-width="1.15" />
<text x="84.50" y="651.20" font-size="9.0" text-anchor="end" stroke="#151314" stroke-width="0.35" transform="rotate(-45 84.50 651.20)">500nM</text>
<line x1="99.00" y1="634.50" x2="99.00" y2="642.60" stroke="#000" stroke-width="1.15" />
<text x="101.20" y="651.20" font-size="9.0" text-anchor="end" stroke="#151314" stroke-width="0.35" transform="rotate(-45 101.20 651.20)">5nM</text>
<line x1="110.00" y1="634.50" x2="110.00" y2="642.60" stroke="#000" stroke-width="1.15" />
<text x="112.20" y="651.20" font-size="9.0" text-anchor="end" stroke="#151314" stroke-width="0.35" transform="rotate(-45 112.20 651.20)">50nM</text>
<line x1="121.30" y1="634.50" x2="121.30" y2="642.60" stroke="#000" stroke-width="1.15" />
<text x="123.50" y="651.20" font-size="9.0" text-anchor="end" stroke="#151314" stroke-width="0.35" transform="rotate(-45 123.50 651.20)">500nM</text>
<line x1="137.50" y1="634.50" x2="137.50" y2="642.60" stroke="#000" stroke-width="1.15" />
<text x="139.70" y="651.20" font-size="9.0" text-anchor="end" stroke="#151314" stroke-width="0.35" transform="rotate(-45 139.70 651.20)">5nM</text>
<line x1="148.60" y1="634.50" x2="148.60" y2="642.60" stroke="#000" stroke-width="1.15" />
<text x="150.80" y="651.20" font-size="9.0" text-anchor="end" stroke="#151314" stroke-width="0.35" transform="rotate(-45 150.80 651.20)">50nM</text>
<line x1="159.70" y1="634.50" x2="159.70" y2="642.60" stroke="#000" stroke-width="1.15" />
<text x="161.90" y="651.20" font-size="9.0" text-anchor="end" stroke="#151314" stroke-width="0.35" transform="rotate(-45 161.90 651.20)">500nM</text>
<line x1="176.20" y1="634.50" x2="176.20" y2="642.60" stroke="#000" stroke-width="1.15" />
<text x="178.40" y="651.20" font-size="9.0" text-anchor="end" stroke="#151314" stroke-width="0.35" transform="rotate(-45 178.40 651.20)">5nM</text>
<line x1="187.40" y1="634.50" x2="187.40" y2="642.60" stroke="#000" stroke-width="1.15" />
<text x="189.60" y="651.20" font-size="9.0" text-anchor="end" stroke="#151314" stroke-width="0.35" transform="rotate(-45 189.60 651.20)">50nM</text>
<line x1="198.50" y1="634.50" x2="198.50" y2="642.60" stroke="#000" stroke-width="1.15" />
<text x="200.70" y="651.20" font-size="9.0" text-anchor="end" stroke="#151314" stroke-width="0.35" transform="rotate(-45 200.70 651.20)">500nM</text>
<text x="129.50" y="688.60" font-size="10.7" text-anchor="middle" stroke="#151314" stroke-width="0.28">[UNK] nM</text>
<text fill="#151314" stroke="#151314" stroke-width="0.34" font-size="12" text-anchor="middle" transform="translate(26.7 590) rotate(-90)">Log<tspan font-size="7.6" dy="2.2">2</tspan><tspan dy="-2.2">(nsRBNS </tspan><tspan font-style="italic">R</tspan>)</text>
<rect x="94.4" y="534.80" width="8" height="7.8" fill="#cc4389" stroke="#000" stroke-width="0.9"/>
<text x="105.00" y="541.70" font-size="8.85" stroke="#151314" stroke-width="0.23">hu <tspan font-style="italic">GTPB4</tspan></text>
<rect x="94.4" y="546.05" width="8" height="7.8" fill="#62a650" stroke="#000" stroke-width="0.9"/>
<text x="105.00" y="552.95" font-size="8.85" stroke="#151314" stroke-width="0.23">mus <tspan font-style="italic">gtpb4</tspan></text>
<rect x="94.4" y="557.30" width="8" height="7.8" fill="#3a6f7d" stroke="#000" stroke-width="0.9"/>
<text x="105.00" y="564.20" font-size="8.85" stroke="#151314" stroke-width="0.23">chi58-67 <tspan font-style="italic">gtpb4</tspan></text>
<rect x="94.4" y="568.55" width="8" height="7.8" fill="#8ecbc5" stroke="#000" stroke-width="0.9"/>
<text x="105.00" y="575.45" font-size="8.85" stroke="#151314" stroke-width="0.23">chi58-77 <tspan font-style="italic">gtpb4</tspan></text>
<text font-size="24.3" font-weight="bold" fill="#231f20" stroke="#231f20" stroke-width="0.3" transform="translate(219.70 548.00) scale(0.930 1)">I</text>
<line x1="348.37" y1="600.40" x2="348.37" y2="606.60" stroke="#000" stroke-width="1.1" /><line x1="345.27" y1="600.40" x2="351.47" y2="600.40" stroke="#000" stroke-width="1.1" /><line x1="345.27" y1="606.60" x2="351.47" y2="606.60" stroke="#000" stroke-width="1.1" />
<line x1="398.47" y1="589.60" x2="398.47" y2="597.00" stroke="#3b7d90" stroke-width="1.1" /><line x1="395.37" y1="589.60" x2="401.57" y2="589.60" stroke="#3b7d90" stroke-width="1.1" /><line x1="395.37" y1="597.00" x2="401.57" y2="597.00" stroke="#3b7d90" stroke-width="1.1" />
<line x1="415.17" y1="583.50" x2="415.17" y2="591.60" stroke="#3b7d90" stroke-width="1.1" /><line x1="412.07" y1="583.50" x2="418.27" y2="583.50" stroke="#3b7d90" stroke-width="1.1" /><line x1="412.07" y1="591.60" x2="418.27" y2="591.60" stroke="#3b7d90" stroke-width="1.1" />
<line x1="448.57" y1="552.50" x2="448.57" y2="559.00" stroke="#000" stroke-width="1.1" /><line x1="445.47" y1="552.50" x2="451.67" y2="552.50" stroke="#000" stroke-width="1.1" /><line x1="445.47" y1="559.00" x2="451.67" y2="559.00" stroke="#000" stroke-width="1.1" />
<line x1="465.27" y1="546.00" x2="465.27" y2="552.30" stroke="#000" stroke-width="1.1" /><line x1="462.07" y1="546.00" x2="468.47" y2="546.00" stroke="#000" stroke-width="1.1" /><line x1="462.07" y1="552.30" x2="468.47" y2="552.30" stroke="#000" stroke-width="1.1" />
<line x1="465.27" y1="584.60" x2="465.27" y2="593.40" stroke="#000" stroke-width="1.1" /><line x1="462.07" y1="584.60" x2="468.47" y2="584.60" stroke="#000" stroke-width="1.1" /><line x1="462.07" y1="593.40" x2="468.47" y2="593.40" stroke="#000" stroke-width="1.1" />
<polyline points="298.28,606.71 299.67,606.71 301.06,606.71 302.45,606.71 303.84,606.71 305.23,606.71 306.63,606.71 308.02,606.71 309.41,606.71 310.80,606.71 312.19,606.71 313.58,606.71 314.98,606.71 316.37,606.71 317.76,606.71 319.15,606.71 320.54,606.71 321.93,606.71 323.32,606.71 324.72,606.71 326.11,606.71 327.50,606.71 328.89,606.71 330.28,606.71 331.67,606.71 333.07,606.71 334.46,606.71 335.85,606.71 337.24,606.71 338.63,606.71 340.02,606.71 341.42,606.70 342.81,606.70 344.20,606.70 345.59,606.70 346.98,606.70 348.37,606.70 349.77,606.70 351.16,606.69 352.55,606.69 353.94,606.69 355.33,606.69 356.72,606.69 358.11,606.68 359.51,606.68 360.90,606.68 362.29,606.67 363.68,606.67 365.07,606.66 366.46,606.66 367.86,606.65 369.25,606.65 370.64,606.64 372.03,606.64 373.42,606.63 374.81,606.62 376.21,606.61 377.60,606.60 378.99,606.59 380.38,606.58 381.77,606.56 383.16,606.55 384.56,606.53 385.95,606.52 387.34,606.50 388.73,606.48 390.12,606.46 391.51,606.43 392.90,606.40 394.30,606.37 395.69,606.34 397.08,606.31 398.47,606.27 399.86,606.23 401.25,606.18 402.65,606.13 404.04,606.07 405.43,606.01 406.82,605.95 408.21,605.88 409.60,605.80 411.00,605.71 412.39,605.62 413.78,605.52 415.17,605.41 416.56,605.29 417.95,605.16 419.35,605.02 420.74,604.86 422.13,604.69 423.52,604.51 424.91,604.32 426.30,604.10 427.70,603.87 429.09,603.63 430.48,603.36 431.87,603.07 433.26,602.76 434.65,602.43 436.04,602.08 437.44,601.70 438.83,601.29 440.22,600.86 441.61,600.40 443.00,599.91 444.39,599.40 445.79,598.86 447.18,598.29 448.57,597.70 449.96,597.07 451.35,596.43 452.74,595.75 454.14,595.06 455.53,594.34 456.92,593.61 458.31,592.86 459.70,592.10 461.09,591.32 462.49,590.54 463.88,589.75 465.27,588.97" fill="none" stroke="#7dba6c" stroke-width="1.3"/>
<rect x="295.68" y="604.11" width="5.2" height="5.2" fill="#6aab5a"/>
<rect x="312.38" y="604.11" width="5.2" height="5.2" fill="#6aab5a"/>
<rect x="329.07" y="604.11" width="5.2" height="5.2" fill="#6aab5a"/>
<rect x="345.77" y="604.10" width="5.2" height="5.2" fill="#6aab5a"/>
<rect x="362.47" y="604.06" width="5.2" height="5.2" fill="#6aab5a"/>
<rect x="379.17" y="603.96" width="5.2" height="5.2" fill="#6aab5a"/>
<rect x="395.87" y="603.67" width="5.2" height="5.2" fill="#6aab5a"/>
<rect x="412.57" y="602.81" width="5.2" height="5.2" fill="#6aab5a"/>
<rect x="429.27" y="600.47" width="5.2" height="5.2" fill="#6aab5a"/>
<rect x="445.97" y="595.10" width="5.2" height="5.2" fill="#6aab5a"/>
<rect x="462.67" y="586.37" width="5.2" height="5.2" fill="#6aab5a"/>
<polyline points="298.28,606.41 299.67,606.41 301.06,606.40 302.45,606.40 303.84,606.40 305.23,606.40 306.63,606.39 308.02,606.39 309.41,606.39 310.80,606.39 312.19,606.38 313.58,606.38 314.98,606.37 316.37,606.37 317.76,606.36 319.15,606.36 320.54,606.35 321.93,606.34 323.32,606.34 324.72,606.33 326.11,606.32 327.50,606.31 328.89,606.30 330.28,606.29 331.67,606.27 333.07,606.26 334.46,606.24 335.85,606.23 337.24,606.21 338.63,606.19 340.02,606.16 341.42,606.14 342.81,606.11 344.20,606.08 345.59,606.05 346.98,606.01 348.37,605.97 349.77,605.93 351.16,605.88 352.55,605.83 353.94,605.78 355.33,605.72 356.72,605.65 358.11,605.58 359.51,605.50 360.90,605.41 362.29,605.31 363.68,605.21 365.07,605.09 366.46,604.97 367.86,604.83 369.25,604.69 370.64,604.53 372.03,604.35 373.42,604.16 374.81,603.95 376.21,603.72 377.60,603.48 378.99,603.21 380.38,602.92 381.77,602.61 383.16,602.27 384.56,601.90 385.95,601.50 387.34,601.07 388.73,600.61 390.12,600.11 391.51,599.57 392.90,599.00 394.30,598.38 395.69,597.73 397.08,597.02 398.47,596.28 399.86,595.48 401.25,594.64 402.65,593.75 404.04,592.82 405.43,591.83 406.82,590.80 408.21,589.72 409.60,588.60 411.00,587.44 412.39,586.24 413.78,585.00 415.17,583.73 416.56,582.43 417.95,581.11 419.35,579.77 420.74,578.42 422.13,577.06 423.52,575.70 424.91,574.35 426.30,573.00 427.70,571.67 429.09,570.36 430.48,569.07 431.87,567.82 433.26,566.60 434.65,565.41 436.04,564.27 437.44,563.17 438.83,562.11 440.22,561.10 441.61,560.14 443.00,559.23 444.39,558.36 445.79,557.54 447.18,556.77 448.57,556.04 449.96,555.36 451.35,554.72 452.74,554.13 454.14,553.57 455.53,553.05 456.92,552.57 458.31,552.13 459.70,551.71 461.09,551.33 462.49,550.97 463.88,550.64 465.27,550.34" fill="none" stroke="#3b7d90" stroke-width="1.2"/>
<polygon points="295.38,609.13 301.18,609.13 298.28,603.91" fill="#3b7d90"/>
<polygon points="312.08,609.09 317.88,609.09 314.98,603.87" fill="#3b7d90"/>
<polygon points="328.77,608.99 334.57,608.99 331.67,603.77" fill="#3b7d90"/>
<polygon points="345.47,608.69 351.27,608.69 348.37,603.47" fill="#3b7d90"/>
<polygon points="362.17,607.81 367.97,607.81 365.07,602.59" fill="#3b7d90"/>
<polygon points="378.87,605.33 384.67,605.33 381.77,600.11" fill="#3b7d90"/>
<polygon points="395.57,599.00 401.37,599.00 398.47,593.78" fill="#3b7d90"/>
<polygon points="412.27,590.55 418.07,590.55 415.17,585.33" fill="#3b7d90"/>
<polygon points="428.97,570.54 434.77,570.54 431.87,565.32" fill="#3b7d90"/>
<polygon points="445.67,558.76 451.47,558.76 448.57,553.54" fill="#3b7d90"/>
<polygon points="462.37,553.06 468.17,553.06 465.27,547.84" fill="#3b7d90"/>
<polyline points="298.28,606.11 299.67,606.11 301.06,606.11 302.45,606.11 303.84,606.10 305.23,606.10 306.63,606.10 308.02,606.10 309.41,606.09 310.80,606.09 312.19,606.08 313.58,606.08 314.98,606.07 316.37,606.07 317.76,606.06 319.15,606.06 320.54,606.05 321.93,606.04 323.32,606.03 324.72,606.02 326.11,606.01 327.50,606.00 328.89,605.99 330.28,605.97 331.67,605.96 333.07,605.94 334.46,605.92 335.85,605.91 337.24,605.88 338.63,605.86 340.02,605.83 341.42,605.81 342.81,605.77 344.20,605.74 345.59,605.70 346.98,605.66 348.37,605.62 349.77,605.57 351.16,605.51 352.55,605.46 353.94,605.39 355.33,605.32 356.72,605.25 358.11,605.16 359.51,605.07 360.90,604.97 362.29,604.86 363.68,604.74 365.07,604.61 366.46,604.47 367.86,604.32 369.25,604.15 370.64,603.97 372.03,603.77 373.42,603.55 374.81,603.31 376.21,603.06 377.60,602.78 378.99,602.48 380.38,602.15 381.77,601.80 383.16,601.41 384.56,601.00 385.95,600.55 387.34,600.07 388.73,599.56 390.12,599.00 391.51,598.41 392.90,597.77 394.30,597.09 395.69,596.36 397.08,595.59 398.47,594.77 399.86,593.91 401.25,592.99 402.65,592.03 404.04,591.02 405.43,589.96 406.82,588.86 408.21,587.72 409.60,586.53 411.00,585.31 412.39,584.05 413.78,582.76 415.17,581.45 416.56,580.11 417.95,578.76 419.35,577.40 420.74,576.03 422.13,574.66 423.52,573.30 424.91,571.96 426.30,570.63 427.70,569.32 429.09,568.04 430.48,566.80 431.87,565.58 433.26,564.41 434.65,563.28 436.04,562.20 437.44,561.15 438.83,560.16 440.22,559.21 441.61,558.32 443.00,557.47 444.39,556.67 445.79,555.91 447.18,555.20 448.57,554.53 449.96,553.91 451.35,553.33 452.74,552.79 454.14,552.29 455.53,551.82 456.92,551.38 458.31,550.98 459.70,550.61 461.09,550.26 462.49,549.94 463.88,549.65 465.27,549.38" fill="none" stroke="#cc4389" stroke-width="1.3"/>
<circle cx="298.28" cy="606.11" r="2.75" fill="#cc4389"/>
<circle cx="314.98" cy="606.07" r="2.75" fill="#cc4389"/>
<circle cx="331.67" cy="605.96" r="2.75" fill="#cc4389"/>
<circle cx="348.37" cy="605.62" r="2.75" fill="#cc4389"/>
<circle cx="365.07" cy="604.61" r="2.75" fill="#cc4389"/>
<circle cx="381.77" cy="601.80" r="2.75" fill="#cc4389"/>
<circle cx="398.47" cy="594.77" r="2.75" fill="#cc4389"/>
<circle cx="415.17" cy="581.45" r="2.75" fill="#cc4389"/>
<circle cx="431.87" cy="565.58" r="2.75" fill="#cc4389"/>
<circle cx="448.57" cy="554.53" r="2.75" fill="#cc4389"/>
<circle cx="465.27" cy="549.38" r="2.75" fill="#cc4389"/>
<polyline points="265.8,541.1 265.8,614.0 475.8,614.0" fill="none" stroke="#000" stroke-width="1.1"/>
<line x1="258.20" y1="541.15" x2="265.80" y2="541.15" stroke="#000" stroke-width="1.0" />
<text x="256.40" y="544.35" font-size="8.9" text-anchor="end" stroke="#151314" stroke-width="0.23">250</text>
<line x1="258.20" y1="555.72" x2="265.80" y2="555.72" stroke="#000" stroke-width="1.0" />
<text x="256.40" y="558.92" font-size="8.9" text-anchor="end" stroke="#151314" stroke-width="0.23">200</text>
<line x1="258.20" y1="570.29" x2="265.80" y2="570.29" stroke="#000" stroke-width="1.0" />
<text x="256.40" y="573.49" font-size="8.9" text-anchor="end" stroke="#151314" stroke-width="0.23">150</text>
<line x1="258.20" y1="584.86" x2="265.80" y2="584.86" stroke="#000" stroke-width="1.0" />
<text x="256.40" y="588.06" font-size="8.9" text-anchor="end" stroke="#151314" stroke-width="0.23">100</text>
<line x1="258.20" y1="599.43" x2="265.80" y2="599.43" stroke="#000" stroke-width="1.0" />
<text x="256.40" y="602.63" font-size="8.9" text-anchor="end" stroke="#151314" stroke-width="0.23">50</text>
<line x1="258.20" y1="614.00" x2="265.80" y2="614.00" stroke="#000" stroke-width="1.0" />
<text x="256.40" y="617.20" font-size="8.9" text-anchor="end" stroke="#151314" stroke-width="0.23">0</text>
<line x1="265.80" y1="614.00" x2="265.80" y2="620.80" stroke="#000" stroke-width="1.0" />
<text x="265.80" y="631.20" font-size="8.9" text-anchor="middle" stroke="#151314" stroke-width="0.23">0.01</text>
<line x1="300.80" y1="614.00" x2="300.80" y2="620.80" stroke="#000" stroke-width="1.0" />
<text x="300.80" y="631.20" font-size="8.9" text-anchor="middle" stroke="#151314" stroke-width="0.23">0.1</text>
<line x1="335.80" y1="614.00" x2="335.80" y2="620.80" stroke="#000" stroke-width="1.0" />
<text x="335.80" y="631.20" font-size="8.9" text-anchor="middle" stroke="#151314" stroke-width="0.23">1</text>
<line x1="370.80" y1="614.00" x2="370.80" y2="620.80" stroke="#000" stroke-width="1.0" />
<text x="370.80" y="631.20" font-size="8.9" text-anchor="middle" stroke="#151314" stroke-width="0.23">10</text>
<line x1="405.80" y1="614.00" x2="405.80" y2="620.80" stroke="#000" stroke-width="1.0" />
<text x="405.80" y="631.20" font-size="8.9" text-anchor="middle" stroke="#151314" stroke-width="0.23">100</text>
<line x1="440.80" y1="614.00" x2="440.80" y2="620.80" stroke="#000" stroke-width="1.0" />
<text x="440.80" y="631.20" font-size="8.9" text-anchor="middle" stroke="#151314" stroke-width="0.23">1000</text>
<line x1="475.80" y1="614.00" x2="475.80" y2="620.80" stroke="#000" stroke-width="1.0" />
<text x="475.80" y="631.20" font-size="8.9" text-anchor="middle" stroke="#151314" stroke-width="0.23">10000</text>
<text x="370.80" y="649.80" font-size="13.4" text-anchor="middle" stroke="#151314" stroke-width="0.36">[UNK] nM</text>
<text fill="#151314" stroke="#151314" stroke-width="0.34" font-size="13.8" text-anchor="middle" transform="translate(234.8 584.6) rotate(-90)">FP (mP)</text>
<line x1="269.90" y1="548.30" x2="290.00" y2="548.30" stroke="#cc4389" stroke-width="1.2" />
<circle cx="279.90" cy="548.30" r="2.75" fill="#cc4389"/>
<line x1="269.90" y1="561.50" x2="290.00" y2="561.50" stroke="#3b7d90" stroke-width="1.2" />
<polygon points="276.90,563.70 282.90,563.70 279.90,558.30" fill="#3b7d90"/>
<line x1="269.90" y1="574.10" x2="290.00" y2="574.10" stroke="#8fc47f" stroke-width="1.3" />
<rect x="277.2" y="571.4" width="5.4" height="5.4" fill="#6aab5a"/>
<text x="301.00" y="551.60" font-size="8.45" stroke="#151314" stroke-width="0.21">Human</text>
<text x="332.60" y="551.20" font-size="8.45" stroke="#151314" stroke-width="0.21">[K<tspan font-size="6" dy="1.6">d</tspan><tspan dy="-1.6"> = 263 ± 36 nM]</tspan></text>
<text x="301.00" y="564.40" font-size="8.45" stroke="#151314" stroke-width="0.21">Chimera</text>
<text x="338.40" y="564.00" font-size="8.45" stroke="#151314" stroke-width="0.21">[K<tspan font-size="6" dy="1.6">d</tspan><tspan dy="-1.6"> = 305 ± 60 nM]</tspan></text>
<text x="301.00" y="577.00" font-size="8.45" stroke="#151314" stroke-width="0.21">Mouse</text>
<text x="330.00" y="576.60" font-size="8.45" stroke="#151314" stroke-width="0.21">[K<tspan font-size="6" dy="1.6">d</tspan><tspan dy="-1.6"> &gt; 5 µM]</tspan></text>
<text x="255.2" y="666.8" font-size="8.88" font-family="'Liberation Mono', monospace" xml:space="preserve" fill="#1a1a1a" stroke="#1a1a1a" stroke-width="0.12">Human GTPB4:    5' UACAUCGCAUUAGACAUUUU 3'</text>
<text x="255.2" y="678.2" font-size="8.88" font-family="'Liberation Mono', monospace" xml:space="preserve" fill="#1a1a1a" stroke="#1a1a1a" stroke-width="0.12">Mouse gtpb4:    5' U<tspan fill="#e8273b" stroke="#e8273b">U</tspan>CAUCG<tspan fill="#e8273b" stroke="#e8273b">G</tspan>AUU<tspan fill="#e8273b" stroke="#e8273b">C</tspan><tspan fill="#e8273b" stroke="#e8273b">G</tspan>ACAUUUU 3'</text>
<text x="255.2" y="689.6" font-size="8.88" font-family="'Liberation Mono', monospace" xml:space="preserve" fill="#1a1a1a" stroke="#1a1a1a" stroke-width="0.12">Chi58-67 gtpb4: 5' U<tspan fill="#e8273b" stroke="#e8273b">U</tspan>CAUCGCAUUAGACAUUUU 3'</text>
</svg>
</body>
</html>
